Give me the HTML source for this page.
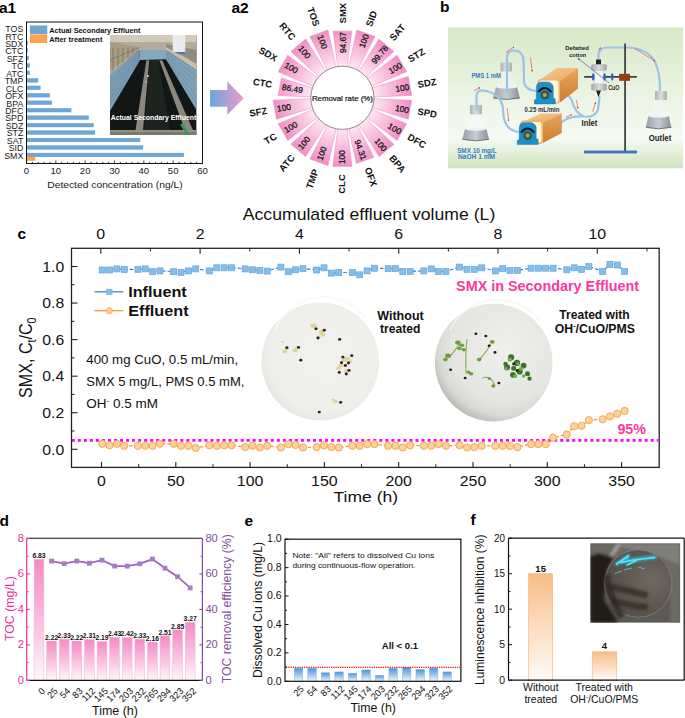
<!DOCTYPE html>
<html><head><meta charset="utf-8"><style>
html,body{margin:0;padding:0;background:#fff;}
svg{display:block;font-family:"Liberation Sans",sans-serif;}
</style></head><body>
<svg width="685" height="718" viewBox="0 0 685 718">
<defs><linearGradient id="poolwall" x1="0" y1="0" x2="0" y2="1"><stop offset="0" stop-color="#8fb4c8"/><stop offset="1" stop-color="#6f9ab3"/></linearGradient><linearGradient id="arrg" x1="0" y1="0" x2="1" y2="0"><stop offset="0" stop-color="#69a6d8"/><stop offset="1" stop-color="#f39acb"/></linearGradient><radialGradient id="segg" gradientUnits="userSpaceOnUse" cx="342.4" cy="97.8" r="70"><stop offset="0.44" stop-color="#fde9f3"/><stop offset="0.7" stop-color="#f8bddc"/><stop offset="1" stop-color="#f08cc3"/></radialGradient><linearGradient id="bbg" x1="0" y1="0" x2="0" y2="1"><stop offset="0" stop-color="#d6e9c7"/><stop offset="0.45" stop-color="#e9f3e1"/><stop offset="0.78" stop-color="#f6faf3"/><stop offset="0.9" stop-color="#e2efd7"/><stop offset="1" stop-color="#cde3bc"/></linearGradient>
<linearGradient id="flaskg" x1="0" y1="0" x2="1" y2="0"><stop offset="0" stop-color="#98a0a8"/><stop offset="0.5" stop-color="#c6ccd2"/><stop offset="1" stop-color="#8a929a"/></linearGradient>
<linearGradient id="cylg" x1="0" y1="0" x2="1" y2="0"><stop offset="0" stop-color="#a6a9ab"/><stop offset="0.5" stop-color="#dcdddd"/><stop offset="1" stop-color="#9ea1a3"/></linearGradient>
<linearGradient id="boxtop" x1="0" y1="0" x2="1" y2="1"><stop offset="0" stop-color="#f7cf95"/><stop offset="1" stop-color="#e8a458"/></linearGradient>
<linearGradient id="boxside" x1="0" y1="0" x2="0" y2="1"><stop offset="0" stop-color="#e9a45a"/><stop offset="1" stop-color="#c97f33"/></linearGradient>
<marker id="rarr" viewBox="0 0 6 6" refX="5" refY="3" markerWidth="3" markerHeight="3" orient="auto"><path d="M0,0 L6,3 L0,6 z" fill="#e02020"/></marker>
<marker id="barr" viewBox="0 0 6 6" refX="1" refY="3" markerWidth="4" markerHeight="4" orient="auto-start-reverse"><path d="M0,0 L6,3 L0,6 z" fill="#3d63b8"/></marker><radialGradient id="dish1" cx="0.55" cy="0.45" r="0.6"><stop offset="0" stop-color="#f1f1ef"/><stop offset="0.8" stop-color="#eeeeeb"/><stop offset="0.94" stop-color="#e8e7e3"/><stop offset="1" stop-color="#dcdbd7"/></radialGradient>
<radialGradient id="dish2" cx="0.6" cy="0.38" r="0.65"><stop offset="0" stop-color="#efefed"/><stop offset="0.7" stop-color="#e5e5e1"/><stop offset="0.88" stop-color="#d8d8d4"/><stop offset="1" stop-color="#bdbdb8"/></radialGradient><linearGradient id="pbar" x1="0" y1="0" x2="0" y2="1"><stop offset="0" stop-color="#f58ac3"/><stop offset="0.55" stop-color="#fac3e0"/><stop offset="1" stop-color="#fff8fc"/></linearGradient><linearGradient id="bbar" x1="0" y1="0" x2="0" y2="1"><stop offset="0" stop-color="#4a93da"/><stop offset="1" stop-color="#f2f8fd"/></linearGradient><linearGradient id="obar" x1="0" y1="0" x2="0" y2="1"><stop offset="0" stop-color="#f8bd86"/><stop offset="0.5" stop-color="#fcdcc0"/><stop offset="1" stop-color="#fffaf6"/></linearGradient><radialGradient id="fdish" cx="0.7" cy="0.45" r="0.75"><stop offset="0" stop-color="#6f6961"/><stop offset="0.6" stop-color="#5b554e"/><stop offset="0.95" stop-color="#524c46"/><stop offset="1" stop-color="#736e67"/></radialGradient>
<linearGradient id="fbg" x1="0" y1="0" x2="1" y2="1"><stop offset="0" stop-color="#5a5852"/><stop offset="0.5" stop-color="#8e8c86"/><stop offset="1" stop-color="#55524c"/></linearGradient><filter id="blur1" x="-20%" y="-20%" width="140%" height="140%"><feGaussianBlur stdDeviation="1.6"/></filter><filter id="blur2" x="-20%" y="-20%" width="140%" height="140%"><feGaussianBlur stdDeviation="0.7"/></filter><filter id="glow" x="-30%" y="-30%" width="160%" height="160%"><feGaussianBlur stdDeviation="1.2"/></filter></defs>
<rect width="685" height="718" fill="#fff"/>
<text x="-1.00" y="12.80" font-size="15.5" fill="#000" text-anchor="start" font-weight="bold" >a1</text>
<text x="231.50" y="13.00" font-size="15.5" fill="#000" text-anchor="start" font-weight="bold" >a2</text>
<text x="440.00" y="11.90" font-size="15.5" fill="#000" text-anchor="start" font-weight="bold" >b</text>
<text x="17.50" y="238.90" font-size="15.5" fill="#000" text-anchor="start" font-weight="bold" >c</text>
<text x="-0.50" y="525.70" font-size="15.5" fill="#000" text-anchor="start" font-weight="bold" >d</text>
<text x="244.50" y="525.70" font-size="15.5" fill="#000" text-anchor="start" font-weight="bold" >e</text>
<text x="470.50" y="525.10" font-size="15.5" fill="#000" text-anchor="start" font-weight="bold" >f</text>
<g><clipPath id="a1clip"><rect x="110" y="35" width="86.6" height="100"/></clipPath><g clip-path="url(#a1clip)">
<rect x="110.00" y="35.00" width="86.60" height="100.00" fill="#121614" stroke="none" stroke-width="1" />
<polygon points="110,35 196.6,35 196.6,63 166,50.2 139,50.2 110,76" fill="#b4ab98"/>
<polygon points="110,35 196.6,35 196.6,42 110,42" fill="#d2cab8"/>
<polygon points="110,42 139,47 139,50 110,70" fill="#a89c84"/>
<polygon points="166,44 196.6,50 196.6,63 166,47" fill="#8f8b80"/>
<line x1="113" y1="48" x2="113" y2="71.3" stroke="#6d6a60" stroke-width="0.7"/>
<line x1="118" y1="48" x2="118" y2="66.8" stroke="#6d6a60" stroke-width="0.7"/>
<line x1="123" y1="48" x2="123" y2="62.3" stroke="#6d6a60" stroke-width="0.7"/>
<line x1="128" y1="48" x2="128" y2="57.8" stroke="#6d6a60" stroke-width="0.7"/>
<line x1="133" y1="48" x2="133" y2="53.3" stroke="#6d6a60" stroke-width="0.7"/>
<line x1="110" y1="60" x2="139" y2="47.5" stroke="#7a7567" stroke-width="0.8"/>
<rect x="172.70" y="35.00" width="12.60" height="18.00" fill="#e9ebec" stroke="none" stroke-width="1" />
<rect x="172.70" y="52.00" width="12.60" height="2.00" fill="#4a78b8" stroke="none" stroke-width="1" />
<polygon points="166,47.6 196.6,63.5 196.6,70.2 166,50.1" fill="#c9bfa8"/>
<polygon points="166,50.1 196.6,70.2 196.6,110.3 166,59.3" fill="#7fa2b8"/>
<polygon points="110,75.2 139.3,50.1 140.1,60.1 110,111.1" fill="#7a9db4"/>
<polygon points="139.3,50.1 166,50.1 166,59.3 140.1,60.1" fill="#86a8bc"/>
<line x1="166" y1="51.6" x2="196.6" y2="76.9" stroke="#5f8097" stroke-width="0.4"/>
<line x1="110" y1="81.2" x2="139.5" y2="51.8" stroke="#5f8097" stroke-width="0.4"/>
<line x1="166" y1="53.2" x2="196.6" y2="83.6" stroke="#5f8097" stroke-width="0.4"/>
<line x1="110" y1="87.2" x2="139.5" y2="53.4" stroke="#5f8097" stroke-width="0.4"/>
<line x1="166" y1="54.7" x2="196.6" y2="90.2" stroke="#5f8097" stroke-width="0.4"/>
<line x1="110" y1="93.2" x2="139.5" y2="55.1" stroke="#5f8097" stroke-width="0.4"/>
<line x1="166" y1="56.2" x2="196.6" y2="96.9" stroke="#5f8097" stroke-width="0.4"/>
<line x1="110" y1="99.1" x2="139.5" y2="56.8" stroke="#5f8097" stroke-width="0.4"/>
<line x1="166" y1="57.8" x2="196.6" y2="103.6" stroke="#5f8097" stroke-width="0.4"/>
<line x1="110" y1="105.1" x2="139.5" y2="58.4" stroke="#5f8097" stroke-width="0.4"/>
<polygon points="146.4,60.2 149.2,60.2 143,130.3 135.5,130.3" fill="#8a877e"/>
<polygon points="159.3,60.2 162.2,60.2 193,130.3 185,130.3" fill="#8a877e"/>
<polygon points="150,60.2 158.5,60.2 170,130.3 144,130.3" fill="#1d2420"/>
<circle cx="148" cy="76" r="0.9" fill="#e8e8e8"/><circle cx="146.5" cy="82" r="0.7" fill="#cfcfcf"/>
<rect x="110.00" y="130.30" width="86.60" height="5.00" fill="#7c7a70" stroke="none" stroke-width="1" />
<rect x="110.00" y="130.30" width="86.60" height="1.20" fill="#a9a79c" stroke="none" stroke-width="1" />
<polygon points="180,124.5 182.5,123.5 190,135 186.5,135" fill="#2e9a55"/>
</g></g>
<text x="153.50" y="119.80" font-size="7.2" fill="#fff" text-anchor="middle" font-weight="bold" textLength="85.50" lengthAdjust="spacingAndGlyphs" >Actual Secondary Effluent</text>
<text x="23.30" y="32.05" font-size="8.8" fill="#1a1a1a" text-anchor="end" >TOS</text>
<text x="23.30" y="39.50" font-size="8.8" fill="#1a1a1a" text-anchor="end" >RTC</text>
<rect x="26.50" y="41.20" width="1.17" height="3.70" fill="#6fa6d6" stroke="#5b97cc" stroke-width="0.4" />
<text x="23.30" y="46.95" font-size="8.8" fill="#1a1a1a" text-anchor="end" >SDX</text>
<rect x="26.50" y="48.66" width="1.17" height="3.70" fill="#6fa6d6" stroke="#5b97cc" stroke-width="0.4" />
<text x="23.30" y="54.40" font-size="8.8" fill="#1a1a1a" text-anchor="end" >CTC</text>
<rect x="26.50" y="56.12" width="2.05" height="3.70" fill="#6fa6d6" stroke="#5b97cc" stroke-width="0.4" />
<text x="23.30" y="61.85" font-size="8.8" fill="#1a1a1a" text-anchor="end" >SFZ</text>
<rect x="26.50" y="63.58" width="3.23" height="3.70" fill="#6fa6d6" stroke="#5b97cc" stroke-width="0.4" />
<text x="23.30" y="69.30" font-size="8.8" fill="#1a1a1a" text-anchor="end" >TC</text>
<rect x="26.50" y="71.04" width="3.23" height="3.70" fill="#6fa6d6" stroke="#5b97cc" stroke-width="0.4" />
<text x="23.30" y="76.75" font-size="8.8" fill="#1a1a1a" text-anchor="end" >ATC</text>
<rect x="26.50" y="78.50" width="11.44" height="3.70" fill="#6fa6d6" stroke="#5b97cc" stroke-width="0.4" />
<text x="23.30" y="84.20" font-size="8.8" fill="#1a1a1a" text-anchor="end" >TMP</text>
<rect x="26.50" y="85.96" width="13.79" height="3.70" fill="#6fa6d6" stroke="#5b97cc" stroke-width="0.4" />
<text x="23.30" y="91.65" font-size="8.8" fill="#1a1a1a" text-anchor="end" >CLC</text>
<rect x="26.50" y="93.42" width="23.17" height="3.70" fill="#6fa6d6" stroke="#5b97cc" stroke-width="0.4" />
<rect x="26.50" y="97.12" width="0.88" height="3.70" fill="#fba452" stroke="#f8952e" stroke-width="0.4" />
<text x="23.30" y="99.10" font-size="8.8" fill="#1a1a1a" text-anchor="end" >OFX</text>
<rect x="26.50" y="100.88" width="25.23" height="3.70" fill="#6fa6d6" stroke="#5b97cc" stroke-width="0.4" />
<text x="23.30" y="106.55" font-size="8.8" fill="#1a1a1a" text-anchor="end" >BPA</text>
<rect x="26.50" y="108.34" width="44.59" height="3.70" fill="#6fa6d6" stroke="#5b97cc" stroke-width="0.4" />
<text x="23.30" y="114.00" font-size="8.8" fill="#1a1a1a" text-anchor="end" >DFC</text>
<rect x="26.50" y="115.80" width="62.19" height="3.70" fill="#6fa6d6" stroke="#5b97cc" stroke-width="0.4" />
<text x="23.30" y="121.45" font-size="8.8" fill="#1a1a1a" text-anchor="end" >SPD</text>
<rect x="26.50" y="123.26" width="66.88" height="3.70" fill="#6fa6d6" stroke="#5b97cc" stroke-width="0.4" />
<text x="23.30" y="128.90" font-size="8.8" fill="#1a1a1a" text-anchor="end" >SDZ</text>
<rect x="26.50" y="130.72" width="68.35" height="3.70" fill="#6fa6d6" stroke="#5b97cc" stroke-width="0.4" />
<text x="23.30" y="136.35" font-size="8.8" fill="#1a1a1a" text-anchor="end" >STZ</text>
<rect x="26.50" y="138.18" width="113.52" height="3.70" fill="#6fa6d6" stroke="#5b97cc" stroke-width="0.4" />
<text x="23.30" y="143.80" font-size="8.8" fill="#1a1a1a" text-anchor="end" >SAT</text>
<rect x="26.50" y="145.64" width="116.45" height="3.70" fill="#6fa6d6" stroke="#5b97cc" stroke-width="0.4" />
<text x="23.30" y="151.25" font-size="8.8" fill="#1a1a1a" text-anchor="end" >SID</text>
<rect x="26.50" y="153.10" width="157.23" height="3.70" fill="#6fa6d6" stroke="#5b97cc" stroke-width="0.4" />
<rect x="26.50" y="156.80" width="8.51" height="3.70" fill="#fba452" stroke="#f8952e" stroke-width="0.4" />
<text x="23.30" y="158.70" font-size="8.8" fill="#1a1a1a" text-anchor="end" >SMX</text>
<rect x="30.20" y="25.90" width="16.70" height="7.90" fill="#6fa6d6" stroke="#5b97cc" stroke-width="0.6" />
<rect x="30.20" y="34.90" width="16.70" height="7.90" fill="#fba452" stroke="#f8952e" stroke-width="0.6" />
<text x="49.20" y="32.60" font-size="7.3" fill="#111" text-anchor="start" font-weight="bold" textLength="91.30" lengthAdjust="spacingAndGlyphs" >Actual Secondary Effluent</text>
<text x="49.20" y="41.70" font-size="7.3" fill="#111" text-anchor="start" font-weight="bold" textLength="53.20" lengthAdjust="spacingAndGlyphs" >After treatment</text>
<rect x="26.50" y="22.00" width="176.00" height="141.50" fill="none" stroke="#111" stroke-width="1" />
<line x1="26.50" y1="163.50" x2="26.50" y2="160.50" stroke="#111" stroke-width="0.8" />
<text x="26.50" y="174.40" font-size="9.6" fill="#222" text-anchor="middle" >0</text>
<line x1="32.37" y1="163.50" x2="32.37" y2="161.90" stroke="#111" stroke-width="0.8" />
<line x1="38.23" y1="163.50" x2="38.23" y2="161.90" stroke="#111" stroke-width="0.8" />
<line x1="44.10" y1="163.50" x2="44.10" y2="161.90" stroke="#111" stroke-width="0.8" />
<line x1="49.97" y1="163.50" x2="49.97" y2="161.90" stroke="#111" stroke-width="0.8" />
<line x1="55.83" y1="163.50" x2="55.83" y2="160.50" stroke="#111" stroke-width="0.8" />
<text x="55.83" y="174.40" font-size="9.6" fill="#222" text-anchor="middle" >10</text>
<line x1="61.70" y1="163.50" x2="61.70" y2="161.90" stroke="#111" stroke-width="0.8" />
<line x1="67.57" y1="163.50" x2="67.57" y2="161.90" stroke="#111" stroke-width="0.8" />
<line x1="73.43" y1="163.50" x2="73.43" y2="161.90" stroke="#111" stroke-width="0.8" />
<line x1="79.30" y1="163.50" x2="79.30" y2="161.90" stroke="#111" stroke-width="0.8" />
<line x1="85.17" y1="163.50" x2="85.17" y2="160.50" stroke="#111" stroke-width="0.8" />
<text x="85.17" y="174.40" font-size="9.6" fill="#222" text-anchor="middle" >20</text>
<line x1="91.03" y1="163.50" x2="91.03" y2="161.90" stroke="#111" stroke-width="0.8" />
<line x1="96.90" y1="163.50" x2="96.90" y2="161.90" stroke="#111" stroke-width="0.8" />
<line x1="102.77" y1="163.50" x2="102.77" y2="161.90" stroke="#111" stroke-width="0.8" />
<line x1="108.63" y1="163.50" x2="108.63" y2="161.90" stroke="#111" stroke-width="0.8" />
<line x1="114.50" y1="163.50" x2="114.50" y2="160.50" stroke="#111" stroke-width="0.8" />
<text x="114.50" y="174.40" font-size="9.6" fill="#222" text-anchor="middle" >30</text>
<line x1="120.37" y1="163.50" x2="120.37" y2="161.90" stroke="#111" stroke-width="0.8" />
<line x1="126.23" y1="163.50" x2="126.23" y2="161.90" stroke="#111" stroke-width="0.8" />
<line x1="132.10" y1="163.50" x2="132.10" y2="161.90" stroke="#111" stroke-width="0.8" />
<line x1="137.97" y1="163.50" x2="137.97" y2="161.90" stroke="#111" stroke-width="0.8" />
<line x1="143.83" y1="163.50" x2="143.83" y2="160.50" stroke="#111" stroke-width="0.8" />
<text x="143.83" y="174.40" font-size="9.6" fill="#222" text-anchor="middle" >40</text>
<line x1="149.70" y1="163.50" x2="149.70" y2="161.90" stroke="#111" stroke-width="0.8" />
<line x1="155.57" y1="163.50" x2="155.57" y2="161.90" stroke="#111" stroke-width="0.8" />
<line x1="161.43" y1="163.50" x2="161.43" y2="161.90" stroke="#111" stroke-width="0.8" />
<line x1="167.30" y1="163.50" x2="167.30" y2="161.90" stroke="#111" stroke-width="0.8" />
<line x1="173.17" y1="163.50" x2="173.17" y2="160.50" stroke="#111" stroke-width="0.8" />
<text x="173.17" y="174.40" font-size="9.6" fill="#222" text-anchor="middle" >50</text>
<line x1="179.03" y1="163.50" x2="179.03" y2="161.90" stroke="#111" stroke-width="0.8" />
<line x1="184.90" y1="163.50" x2="184.90" y2="161.90" stroke="#111" stroke-width="0.8" />
<line x1="190.77" y1="163.50" x2="190.77" y2="161.90" stroke="#111" stroke-width="0.8" />
<line x1="196.63" y1="163.50" x2="196.63" y2="161.90" stroke="#111" stroke-width="0.8" />
<line x1="202.50" y1="163.50" x2="202.50" y2="160.50" stroke="#111" stroke-width="0.8" />
<text x="202.50" y="174.40" font-size="9.6" fill="#222" text-anchor="middle" >60</text>
<text x="115.00" y="188.20" font-size="9.8" fill="#222" text-anchor="middle" textLength="135.50" lengthAdjust="spacingAndGlyphs" >Detected concentration (ng/L)</text>
<polygon points="210.1,90 227.3,90 227.3,81.6 243.8,98.2 227.3,114.8 227.3,106.8 210.1,106.8" fill="url(#arrg)"/>
<polygon points="337.78,66.54 333.03,31.13 351.77,31.13 347.02,66.54" fill="url(#segg)" stroke="#ef86bf" stroke-width="0.5"/>
<polygon points="348.75,66.85 356.81,30.01 374.93,36.61 357.43,70.00" fill="url(#segg)" stroke="#ef86bf" stroke-width="0.5"/>
<polygon points="358.96,70.89 379.08,39.10 393.84,51.48 366.03,76.82" fill="url(#segg)" stroke="#ef86bf" stroke-width="0.5"/>
<polygon points="367.16,78.17 397.01,55.13 406.65,71.84 371.78,86.17" fill="url(#segg)" stroke="#ef86bf" stroke-width="0.5"/>
<polygon points="372.38,87.83 408.31,76.39 411.66,95.38 373.99,96.92" fill="url(#segg)" stroke="#ef86bf" stroke-width="0.5"/>
<polygon points="373.99,98.68 411.66,100.22 408.31,119.21 372.38,107.77" fill="url(#segg)" stroke="#ef86bf" stroke-width="0.5"/>
<polygon points="371.78,109.43 406.65,123.76 397.01,140.47 367.16,117.43" fill="url(#segg)" stroke="#ef86bf" stroke-width="0.5"/>
<polygon points="366.03,118.78 393.90,144.17 379.12,156.57 358.96,124.71" fill="url(#segg)" stroke="#ef86bf" stroke-width="0.5"/>
<polygon points="357.43,125.60 373.95,157.13 356.37,163.53 348.75,128.75" fill="url(#segg)" stroke="#ef86bf" stroke-width="0.5"/>
<polygon points="347.02,129.06 352.04,166.43 332.76,166.43 337.78,129.06" fill="url(#segg)" stroke="#ef86bf" stroke-width="0.5"/>
<polygon points="336.05,128.75 327.99,165.59 309.87,158.99 327.37,125.60" fill="url(#segg)" stroke="#ef86bf" stroke-width="0.5"/>
<polygon points="325.84,124.71 305.68,156.57 290.90,144.17 318.77,118.78" fill="url(#segg)" stroke="#ef86bf" stroke-width="0.5"/>
<polygon points="317.64,117.43 287.79,140.47 278.15,123.76 313.02,109.43" fill="url(#segg)" stroke="#ef86bf" stroke-width="0.5"/>
<polygon points="312.42,107.77 276.49,119.21 273.14,100.22 310.81,98.68" fill="url(#segg)" stroke="#ef86bf" stroke-width="0.5"/>
<polygon points="310.81,96.92 278.14,95.56 281.25,77.93 312.42,87.83" fill="url(#segg)" stroke="#ef86bf" stroke-width="0.5"/>
<polygon points="313.02,86.17 278.15,71.84 287.79,55.13 317.64,78.17" fill="url(#segg)" stroke="#ef86bf" stroke-width="0.5"/>
<polygon points="318.77,76.82 290.90,51.43 305.68,39.03 325.84,70.89" fill="url(#segg)" stroke="#ef86bf" stroke-width="0.5"/>
<polygon points="327.37,70.00 309.87,36.61 327.99,30.01 336.05,66.85" fill="url(#segg)" stroke="#ef86bf" stroke-width="0.5"/>
<circle cx="342.4" cy="97.8" r="31.6" fill="#fff" stroke="#777" stroke-width="0.8"/>
<text x="342.40" y="100.50" font-size="7.6" fill="#111" text-anchor="middle" textLength="61.00" lengthAdjust="spacingAndGlyphs" stroke="#111" stroke-width="0.2">Removal rate (%)</text>
<text x="346.10" y="32.07" font-size="8.4" fill="#111" text-anchor="end" transform="rotate(-90.00 346.10 32.07)" stroke="#111" stroke-width="0.25">94.67</text>
<text x="345.90" y="23.37" font-size="9.5" fill="#111" text-anchor="start" font-weight="bold" transform="rotate(-90.00 345.90 23.37)" >SMX</text>
<text x="369.03" y="35.45" font-size="8.4" fill="#111" text-anchor="end" transform="rotate(-70.00 369.03 35.45)" stroke="#111" stroke-width="0.25">100</text>
<text x="371.82" y="27.20" font-size="9.5" fill="#111" text-anchor="start" font-weight="bold" transform="rotate(-70.00 371.82 27.20)" >SID</text>
<text x="388.70" y="48.38" font-size="8.4" fill="#111" text-anchor="end" transform="rotate(-50.00 388.70 48.38)" stroke="#111" stroke-width="0.25">99.78</text>
<text x="394.14" y="41.59" font-size="9.5" fill="#111" text-anchor="start" font-weight="bold" transform="rotate(-50.00 394.14 41.59)" >SAT</text>
<text x="402.88" y="67.15" font-size="8.4" fill="#111" text-anchor="end" transform="rotate(-30.00 402.88 67.15)" stroke="#111" stroke-width="0.25">100</text>
<text x="410.31" y="62.63" font-size="9.5" fill="#111" text-anchor="start" font-weight="bold" transform="rotate(-30.00 410.31 62.63)" >STZ</text>
<text x="409.71" y="89.69" font-size="8.4" fill="#111" text-anchor="end" transform="rotate(-10.00 409.71 89.69)" stroke="#111" stroke-width="0.25">100</text>
<text x="418.25" y="87.98" font-size="9.5" fill="#111" text-anchor="start" font-weight="bold" transform="rotate(-10.00 418.25 87.98)" >SDZ</text>
<text x="408.43" y="113.20" font-size="8.4" fill="#111" text-anchor="end" transform="rotate(10.00 408.43 113.20)" stroke="#111" stroke-width="0.25">100</text>
<text x="417.03" y="114.51" font-size="9.5" fill="#111" text-anchor="start" font-weight="bold" transform="rotate(10.00 417.03 114.51)" >SPD</text>
<text x="399.18" y="134.85" font-size="8.4" fill="#111" text-anchor="end" transform="rotate(30.00 399.18 134.85)" stroke="#111" stroke-width="0.25">100</text>
<text x="406.81" y="139.03" font-size="9.5" fill="#111" text-anchor="start" font-weight="bold" transform="rotate(30.00 406.81 139.03)" >DFC</text>
<text x="383.08" y="152.04" font-size="8.4" fill="#111" text-anchor="end" transform="rotate(50.00 383.08 152.04)" stroke="#111" stroke-width="0.25">100</text>
<text x="388.83" y="158.58" font-size="9.5" fill="#111" text-anchor="start" font-weight="bold" transform="rotate(50.00 388.83 158.58)" >BPA</text>
<text x="361.36" y="160.70" font-size="8.4" fill="#111" text-anchor="end" transform="rotate(70.00 361.36 160.70)" stroke="#111" stroke-width="0.25">94.31</text>
<text x="364.52" y="168.81" font-size="9.5" fill="#111" text-anchor="start" font-weight="bold" transform="rotate(70.00 364.52 168.81)" >OFX</text>
<text x="345.00" y="164.10" font-size="8.4" fill="#111" text-anchor="start" transform="rotate(-90.00 345.00 164.10)" stroke="#111" stroke-width="0.25">100</text>
<text x="345.10" y="174.20" font-size="9.5" fill="#111" text-anchor="end" font-weight="bold" transform="rotate(-90.00 345.10 174.20)" >CLC</text>
<text x="322.17" y="160.99" font-size="8.4" fill="#111" text-anchor="start" transform="rotate(-70.00 322.17 160.99)" stroke="#111" stroke-width="0.25">100</text>
<text x="318.81" y="170.52" font-size="9.5" fill="#111" text-anchor="end" font-weight="bold" transform="rotate(-70.00 318.81 170.52)" >TMP</text>
<text x="301.77" y="150.26" font-size="8.4" fill="#111" text-anchor="start" transform="rotate(-50.00 301.77 150.26)" stroke="#111" stroke-width="0.25">100</text>
<text x="295.36" y="158.06" font-size="9.5" fill="#111" text-anchor="end" font-weight="bold" transform="rotate(-50.00 295.36 158.06)" >ATC</text>
<text x="286.28" y="133.20" font-size="8.4" fill="#111" text-anchor="start" transform="rotate(-30.00 286.28 133.20)" stroke="#111" stroke-width="0.25">100</text>
<text x="277.59" y="138.34" font-size="9.5" fill="#111" text-anchor="end" font-weight="bold" transform="rotate(-30.00 277.59 138.34)" >TC</text>
<text x="277.56" y="111.87" font-size="8.4" fill="#111" text-anchor="start" transform="rotate(-10.00 277.56 111.87)" stroke="#111" stroke-width="0.25">100</text>
<text x="267.63" y="113.73" font-size="9.5" fill="#111" text-anchor="end" font-weight="bold" transform="rotate(-10.00 267.63 113.73)" >SFZ</text>
<text x="281.58" y="89.72" font-size="8.4" fill="#111" text-anchor="start" transform="rotate(10.00 281.58 89.72)" stroke="#111" stroke-width="0.25">86.49</text>
<text x="271.61" y="88.06" font-size="9.5" fill="#111" text-anchor="end" font-weight="bold" transform="rotate(10.00 271.61 88.06)" >CTC</text>
<text x="283.68" y="66.90" font-size="8.4" fill="#111" text-anchor="start" transform="rotate(30.00 283.68 66.90)" stroke="#111" stroke-width="0.25">100</text>
<text x="274.89" y="61.94" font-size="9.5" fill="#111" text-anchor="end" font-weight="bold" transform="rotate(30.00 274.89 61.94)" >SDX</text>
<text x="297.79" y="48.68" font-size="8.4" fill="#111" text-anchor="start" transform="rotate(50.00 297.79 48.68)" stroke="#111" stroke-width="0.25">100</text>
<text x="291.22" y="41.01" font-size="9.5" fill="#111" text-anchor="end" font-weight="bold" transform="rotate(50.00 291.22 41.01)" >RTC</text>
<text x="317.28" y="36.39" font-size="8.4" fill="#111" text-anchor="start" transform="rotate(70.00 317.28 36.39)" stroke="#111" stroke-width="0.25">100</text>
<text x="313.73" y="26.93" font-size="9.5" fill="#111" text-anchor="end" font-weight="bold" transform="rotate(70.00 313.73 26.93)" >TOS</text>
<rect x="448.00" y="27.30" width="235.00" height="141.00" fill="url(#bbg)" stroke="none" stroke-width="1" />
<polygon points="471.7,115.2 479.7,115.2 486.4,129.1 465.0,129.1" fill="#f4fafd" opacity="0.4"/>
<path d="M465.0,129.1 L486.4,129.1 L489.1,139.3 Q475.7,142.3 462.3,139.3 Z" fill="url(#flaskg)"/>
<path d="M489.1,139.3 Q475.7,142.3 462.3,139.3" fill="none" stroke="#5d6166" stroke-width="0.8"/>
<ellipse cx="475.7" cy="129.1" rx="10.7" ry="1.6" fill="#eaf5fb"/>
<rect x="470.0" y="105.1" width="11.8" height="9.1" rx="1" fill="url(#cylg)" opacity="0.9"/>
<polygon points="502.5,72.4 510.5,72.4 517.1,87.0 495.9,87.0" fill="#f4fafd" opacity="0.4"/>
<path d="M495.9,87.0 L517.1,87.0 L519.8,98.0 Q506.5,101.0 493.3,98.0 Z" fill="url(#flaskg)"/>
<path d="M519.8,98.0 Q506.5,101.0 493.3,98.0" fill="none" stroke="#5d6166" stroke-width="0.8"/>
<ellipse cx="506.5" cy="87.0" rx="10.6" ry="1.6" fill="#eaf5fb"/>
<rect x="500.6" y="62.6" width="11.3" height="8.8" rx="1" fill="url(#cylg)" opacity="0.9"/>
<polygon points="654.6,101.0 662.6,101.0 668.8,116.0 648.4,116.0" fill="#f4fafd" opacity="0.4"/>
<path d="M648.4,116.0 L668.8,116.0 L671.4,127.3 Q658.6,130.3 645.8,127.3 Z" fill="url(#flaskg)"/>
<path d="M671.4,127.3 Q658.6,130.3 645.8,127.3" fill="none" stroke="#5d6166" stroke-width="0.8"/>
<ellipse cx="658.6" cy="116.0" rx="10.2" ry="1.6" fill="#eaf5fb"/>
<rect x="655.0" y="91.0" width="12.0" height="9.0" rx="1" fill="url(#cylg)" opacity="0.9"/>
<path d="M476.5,110 L476.5,96 Q477,90 483,90.5 Q492,91.5 498,97 Q503,103 503,110 Q503.5,126 512,130 Q516,132 520,132" fill="none" stroke="#9cc3e6" stroke-width="2.2" stroke-linecap="round"/>
<path d="M507,93 L507,56 Q508,50.5 514,50.5 Q523,51 523.5,60 L524,82 Q525,90 536,91" fill="none" stroke="#9cc3e6" stroke-width="2.2" stroke-linecap="round"/>
<path d="M554,92 Q568,91 572,101 Q575,113 584,116.5 Q594,118 598,110 L599.5,97" fill="none" stroke="#9cc3e6" stroke-width="2.2" stroke-linecap="round"/>
<path d="M537,134 Q552,134 560,124 Q567,116 582,116.5" fill="none" stroke="#9cc3e6" stroke-width="2.2" stroke-linecap="round"/>
<path d="M598.5,60 L598.5,54 Q599.5,47.5 608,47.5 L628,47.5 Q648,49 655,62 Q660,72 660,90" fill="none" stroke="#9cc3e6" stroke-width="2.2" stroke-linecap="round"/>
<line x1="505.7" y1="52.5" x2="514" y2="47" stroke="#e83a3a" stroke-width="0.6" fill="none" marker-end="url(#rarr)"/>
<line x1="530.5" y1="57.7" x2="532.2" y2="71.5" stroke="#e83a3a" stroke-width="0.6" fill="none" marker-end="url(#rarr)"/>
<line x1="474" y1="91" x2="480" y2="87.5" stroke="#e83a3a" stroke-width="0.6" fill="none" marker-end="url(#rarr)"/>
<line x1="507.2" y1="108" x2="508.6" y2="121" stroke="#e83a3a" stroke-width="0.6" fill="none" marker-end="url(#rarr)"/>
<line x1="576.3" y1="99.8" x2="578" y2="108.5" stroke="#e83a3a" stroke-width="0.6" fill="none" marker-end="url(#rarr)"/>
<line x1="565.9" y1="117.3" x2="571.8" y2="114.6" stroke="#e83a3a" stroke-width="0.6" fill="none" marker-end="url(#rarr)"/>
<line x1="592.7" y1="111.7" x2="595.6" y2="102.4" stroke="#e83a3a" stroke-width="0.6" fill="none" marker-end="url(#rarr)"/>
<line x1="598.3" y1="50.5" x2="600.6" y2="47.6" stroke="#e83a3a" stroke-width="0.6" fill="none" marker-end="url(#rarr)"/>
<line x1="634.8" y1="48.4" x2="655.2" y2="61.4" stroke="#e83a3a" stroke-width="0.6" fill="none" marker-end="url(#rarr)"/>
<line x1="625.10" y1="43.50" x2="625.10" y2="151.00" stroke="#3e4347" stroke-width="1.8" />
<rect x="584.00" y="150.60" width="53.00" height="2.80" fill="#4472c4" stroke="none" stroke-width="1" />
<line x1="584.20" y1="76.90" x2="636.80" y2="76.90" stroke="#3a3f45" stroke-width="1.6" />
<path d="M596,59.5 L601,59.5 L601,64.6 L596,64.6 Z" fill="#222"/>
<path d="M596,90.2 L601,90.2 L598.5,97.3 Z" fill="#222"/>
<rect x="594.40" y="70.30" width="8.70" height="13.70" fill="#f4f6f7" stroke="#b8bcc0" stroke-width="0.4" />
<rect x="591.40" y="64.60" width="15.30" height="5.70" fill="url(#cylg)" stroke="#999" stroke-width="0.3" rx="1.2"/>
<rect x="591.40" y="84.00" width="15.30" height="6.20" fill="url(#cylg)" stroke="#999" stroke-width="0.3" rx="1.2"/>
<ellipse cx="593.2" cy="76.9" rx="1.3" ry="3.6" fill="#3a63b8"/>
<ellipse cx="604.6" cy="76.9" rx="1.3" ry="3.6" fill="#3a63b8"/>
<ellipse cx="612.3" cy="76.9" rx="1.3" ry="3.6" fill="#3a63b8"/>
<rect x="619.10" y="73.80" width="10.90" height="7.00" fill="#953e0f" stroke="none" stroke-width="1" />
<line x1="579.5" y1="59.5" x2="609.2" y2="83" stroke="#3d63b8" stroke-width="0.7" marker-start="url(#barr)"/>
<polygon points="538.6,81.0 556.6,68.0 578.0,68.0 560.0,81.0" fill="url(#boxtop)"/>
<polygon points="560.0,81.0 578.0,68.0 578.0,88.4 560.0,102.4" fill="url(#boxside)"/>
<rect x="537.6" y="79.0" width="22.4" height="24.4" rx="3" fill="#f1b46c"/>
<rect x="539.1" y="80.5" width="19.4" height="21.4" rx="2" fill="#fff7d8"/>
<path d="M534.3,104.0 L555.3,104.0 L555.3,99.0 L553.3,98.0 L553.3,87.0 Q552.3,82.0 546.3,82.0 L541.3,82.0 Q536.3,82.0 536.3,88.0 L536.3,99.0 L534.3,100.0 Z" fill="#1f8fc9" stroke="#136a9a" stroke-width="0.4"/>
<path d="M538.3,92.0 Q544.3,84.0 551.3,92.0" fill="none" stroke="#111" stroke-width="2"/>
<circle cx="544.8" cy="95.0" r="4" fill="#4a5a2a" stroke="#0d4f74" stroke-width="0.8"/>
<circle cx="544.8" cy="95.0" r="2" fill="#b7a24a"/>
<polygon points="521.5,122.4 540.5,113.4 561.8,113.4 542.8,122.4" fill="url(#boxtop)"/>
<polygon points="542.8,122.4 561.8,113.4 561.8,133.1 542.8,143.1" fill="url(#boxside)"/>
<rect x="520.5" y="120.4" width="22.3" height="23.7" rx="3" fill="#f1b46c"/>
<rect x="522.0" y="121.9" width="19.3" height="20.7" rx="2" fill="#fff7d8"/>
<path d="M517.2,144.5 L538.2,144.5 L538.2,139.5 L536.2,138.5 L536.2,127.5 Q535.2,122.5 529.2,122.5 L524.2,122.5 Q519.2,122.5 519.2,128.5 L519.2,139.5 L517.2,140.5 Z" fill="#1f8fc9" stroke="#136a9a" stroke-width="0.4"/>
<path d="M521.2,132.5 Q527.2,124.5 534.2,132.5" fill="none" stroke="#111" stroke-width="2"/>
<circle cx="527.7" cy="135.5" r="4" fill="#4a5a2a" stroke="#0d4f74" stroke-width="0.8"/>
<circle cx="527.7" cy="135.5" r="2" fill="#b7a24a"/>
<text x="476.90" y="152.60" font-size="6.9" fill="#3a7bc0" text-anchor="middle" font-weight="bold" textLength="39.50" lengthAdjust="spacingAndGlyphs" >SMX 10 mg/L</text>
<text x="476.50" y="158.60" font-size="6.9" fill="#3a7bc0" text-anchor="middle" font-weight="bold" textLength="37.00" lengthAdjust="spacingAndGlyphs" >NaOH 1 mM</text>
<text x="471.40" y="78.40" font-size="7" fill="#3a7bc0" text-anchor="start" font-weight="bold" textLength="29.60" lengthAdjust="spacingAndGlyphs" >PMS 1 mM</text>
<text x="524.60" y="111.70" font-size="7" fill="#333" text-anchor="start" font-weight="bold" textLength="34.80" lengthAdjust="spacingAndGlyphs" >0.25 mL/min</text>
<text x="581.60" y="126.40" font-size="8.6" fill="#222" text-anchor="start" font-weight="bold" textLength="15.80" lengthAdjust="spacingAndGlyphs" >Inlet</text>
<text x="648.70" y="141.40" font-size="8.6" fill="#222" text-anchor="start" font-weight="bold" textLength="22.60" lengthAdjust="spacingAndGlyphs" >Outlet</text>
<text x="608.20" y="90.20" font-size="6.3" fill="#222" text-anchor="start" font-weight="bold" textLength="11.30" lengthAdjust="spacingAndGlyphs" >CuO</text>
<text x="588.80" y="49.80" font-size="5.8" fill="#222" text-anchor="end" font-weight="bold" textLength="23.50" lengthAdjust="spacingAndGlyphs" >Defatted</text>
<text x="586.20" y="57.00" font-size="5.8" fill="#222" text-anchor="end" font-weight="bold" textLength="17.00" lengthAdjust="spacingAndGlyphs" >cotton</text>
<circle cx="320.3" cy="361.5" r="58.9" fill="url(#dish1)"/>
<path d="M275,330 A52,52 0 0 1 365,318" fill="none" stroke="#fafaf9" stroke-width="2" opacity="0.9"/>
<circle cx="493.7" cy="362.6" r="58.8" fill="url(#dish2)"/>
<path d="M450,330 A52,52 0 0 1 540,322" fill="none" stroke="#f6f6f4" stroke-width="1.8" opacity="0.8"/>
<ellipse cx="313.2" cy="325.5" rx="2.8" ry="2.1" fill="#d6d58e" opacity="0.9"/>
<ellipse cx="315.5" cy="327.2" rx="2.0" ry="1.5" fill="#d6d58e" opacity="0.9"/>
<ellipse cx="321.6" cy="332.2" rx="2.8" ry="2.1" fill="#d6d58e" opacity="0.9"/>
<ellipse cx="323.2" cy="334.9" rx="2.2" ry="1.7" fill="#d6d58e" opacity="0.9"/>
<ellipse cx="318.8" cy="336.6" rx="1.8" ry="1.4" fill="#d6d58e" opacity="0.9"/>
<ellipse cx="284.7" cy="351.6" rx="2.6" ry="2.0" fill="#d6d58e" opacity="0.9"/>
<ellipse cx="286.6" cy="349.1" rx="2.0" ry="1.5" fill="#d6d58e" opacity="0.9"/>
<ellipse cx="282.7" cy="342.1" rx="1.4" ry="1.0" fill="#d6d58e" opacity="0.9"/>
<ellipse cx="295.2" cy="350.5" rx="2.6" ry="2.0" fill="#d6d58e" opacity="0.9"/>
<ellipse cx="296.6" cy="348.3" rx="1.8" ry="1.4" fill="#d6d58e" opacity="0.9"/>
<ellipse cx="344.3" cy="359.9" rx="3.0" ry="2.2" fill="#d6d58e" opacity="0.9"/>
<ellipse cx="347.6" cy="358.8" rx="2.6" ry="2.0" fill="#d6d58e" opacity="0.9"/>
<ellipse cx="341.0" cy="365.5" rx="2.6" ry="2.0" fill="#d6d58e" opacity="0.9"/>
<ellipse cx="338.2" cy="368.2" rx="2.2" ry="1.7" fill="#d6d58e" opacity="0.9"/>
<ellipse cx="346.5" cy="371.0" rx="2.6" ry="2.0" fill="#d6d58e" opacity="0.9"/>
<ellipse cx="350.4" cy="361.6" rx="2.0" ry="1.5" fill="#d6d58e" opacity="0.9"/>
<ellipse cx="335.4" cy="401.5" rx="2.4" ry="1.8" fill="#d6d58e" opacity="0.9"/>
<ellipse cx="333.2" cy="399.6" rx="1.6" ry="1.2" fill="#d6d58e" opacity="0.9"/>
<ellipse cx="316.0" cy="328.8" rx="1.6" ry="1.4" fill="#3e1c1c"/>
<ellipse cx="324.3" cy="330.2" rx="1.6" ry="1.4" fill="#3e1c1c"/>
<ellipse cx="318.0" cy="338.0" rx="1.6" ry="1.4" fill="#3e1c1c"/>
<ellipse cx="339.6" cy="339.4" rx="1.6" ry="1.4" fill="#3e1c1c"/>
<ellipse cx="286.9" cy="347.7" rx="1.6" ry="1.4" fill="#3e1c1c"/>
<ellipse cx="298.5" cy="347.4" rx="1.6" ry="1.4" fill="#3e1c1c"/>
<ellipse cx="300.8" cy="360.2" rx="1.6" ry="1.4" fill="#3e1c1c"/>
<ellipse cx="342.9" cy="357.1" rx="1.6" ry="1.4" fill="#3e1c1c"/>
<ellipse cx="341.5" cy="362.7" rx="1.6" ry="1.4" fill="#3e1c1c"/>
<ellipse cx="348.5" cy="363.0" rx="1.6" ry="1.4" fill="#3e1c1c"/>
<ellipse cx="351.8" cy="355.7" rx="1.6" ry="1.4" fill="#3e1c1c"/>
<ellipse cx="339.3" cy="372.4" rx="1.6" ry="1.4" fill="#3e1c1c"/>
<ellipse cx="346.3" cy="374.0" rx="1.6" ry="1.4" fill="#3e1c1c"/>
<ellipse cx="349.0" cy="370.4" rx="1.6" ry="1.4" fill="#3e1c1c"/>
<ellipse cx="340.7" cy="402.3" rx="1.6" ry="1.4" fill="#3e1c1c"/>
<ellipse cx="319.3" cy="412.1" rx="1.6" ry="1.4" fill="#3e1c1c"/>
<ellipse cx="345.4" cy="365.5" rx="1.6" ry="1.4" fill="#3e1c1c"/>
<path d="M467.0,339.3 Q465.1,355.7 466.1,373.8 M477.6,360.6 Q484.1,355.7 490.7,344.2 M482.5,378.0 Q490.7,374.8 494.6,385.3 M449.6,357.3 Q454.6,350.8 459.5,344.2" stroke="#86ad55" stroke-width="1.1" fill="none"/>
<ellipse cx="448.0" cy="355.7" rx="3" ry="2.2" fill="#6f9f3c"/>
<ellipse cx="445.4" cy="359.6" rx="2.4" ry="1.8" fill="#6f9f3c"/>
<ellipse cx="457.9" cy="342.6" rx="2.8" ry="2.1" fill="#6f9f3c"/>
<ellipse cx="461.8" cy="345.2" rx="2.4" ry="1.8" fill="#6f9f3c"/>
<ellipse cx="463.8" cy="349.8" rx="2.2" ry="1.7" fill="#6f9f3c"/>
<ellipse cx="459.5" cy="348.5" rx="2.2" ry="1.7" fill="#6f9f3c"/>
<ellipse cx="471.0" cy="373.8" rx="2.4" ry="1.8" fill="#6f9f3c"/>
<ellipse cx="468.4" cy="372.1" rx="2" ry="1.5" fill="#6f9f3c"/>
<ellipse cx="479.2" cy="359.6" rx="2.4" ry="1.8" fill="#6f9f3c"/>
<ellipse cx="492.3" cy="341.9" rx="2.4" ry="1.8" fill="#6f9f3c"/>
<ellipse cx="493.3" cy="385.9" rx="2.2" ry="1.7" fill="#6f9f3c"/>
<ellipse cx="489.4" cy="378.7" rx="1.8" ry="1.4" fill="#6f9f3c"/>
<circle cx="511.1" cy="357.3" r="3.1" fill="#3b7428"/>
<circle cx="507.1" cy="367.2" r="3.0" fill="#3b7428"/>
<circle cx="517.0" cy="362.9" r="3.1" fill="#3b7428"/>
<circle cx="523.6" cy="365.6" r="2.9" fill="#3b7428"/>
<circle cx="519.6" cy="371.5" r="3.1" fill="#3b7428"/>
<circle cx="513.0" cy="374.8" r="2.9" fill="#3b7428"/>
<circle cx="527.5" cy="373.8" r="2.5" fill="#3b7428"/>
<circle cx="529.5" cy="378.7" r="2.1" fill="#3b7428"/>
<circle cx="505.5" cy="363.9" r="2.2" fill="#3b7428"/>
<circle cx="513.7" cy="368.2" r="2.5" fill="#3b7428"/>
<circle cx="509.8" cy="359.6" r="2.2" fill="#78ad4c"/>
<circle cx="520.9" cy="368.8" r="2.0" fill="#78ad4c"/>
<circle cx="515.3" cy="376.1" r="2.0" fill="#78ad4c"/>
<circle cx="523.6" cy="376.1" r="1.8" fill="#78ad4c"/>
<circle cx="505.8" cy="368.8" r="1.8" fill="#78ad4c"/>
<circle cx="518.0" cy="363.9" r="1.6" fill="#78ad4c"/>
<ellipse cx="475.9" cy="333.7" rx="1.5" ry="1.3" fill="#2a1612"/>
<ellipse cx="485.8" cy="336.0" rx="1.5" ry="1.3" fill="#2a1612"/>
<ellipse cx="489.1" cy="345.8" rx="1.5" ry="1.3" fill="#2a1612"/>
<ellipse cx="495.0" cy="352.4" rx="1.5" ry="1.3" fill="#2a1612"/>
<ellipse cx="450.6" cy="369.8" rx="1.5" ry="1.3" fill="#2a1612"/>
<ellipse cx="465.1" cy="378.0" rx="1.5" ry="1.3" fill="#2a1612"/>
<ellipse cx="498.9" cy="383.0" rx="1.5" ry="1.3" fill="#2a1612"/>
<ellipse cx="513.7" cy="363.9" rx="1.5" ry="1.3" fill="#2a1612"/>
<ellipse cx="517.0" cy="370.5" rx="1.5" ry="1.3" fill="#2a1612"/>
<line x1="71.8" y1="440.4" x2="658.2" y2="440.4" stroke="#ff00ff" stroke-width="2.6" stroke-dasharray="3 3.03"/>
<polyline points="102.2,269.9 109.5,269.9 116.9,268.8 124.2,269.5 137.9,269.2 145.3,268.8 152.6,271.6 160.0,270.8 173.7,271.6 181.0,272.3 188.4,270.8 195.7,268.8 209.4,270.8 216.8,267.7 224.1,267.7 231.5,267.7 245.2,268.8 252.5,269.7 259.9,270.3 267.2,271.0 280.9,267.0 288.3,271.6 295.6,269.7 303.0,268.6 316.6,269.9 324.0,267.7 331.3,273.0 338.7,272.5 352.4,272.5 359.7,274.7 367.1,270.8 374.4,268.1 388.1,268.6 395.5,268.6 402.8,271.4 410.2,271.4 423.9,270.8 431.2,268.8 438.6,271.4 445.9,271.4 459.6,267.0 467.0,269.2 474.3,269.2 481.7,267.7 495.3,270.8 502.7,268.6 510.0,270.3 517.4,270.3 531.1,268.1 538.4,268.1 545.8,268.1 553.1,268.1 566.8,269.7 574.2,267.7 581.5,269.2 588.9,266.4 602.6,271.4 609.9,264.4 617.3,264.9 624.6,271.4" fill="none" stroke="#3d85c6" stroke-width="1.2" stroke-dasharray="3.5 2"/>
<rect x="99.20" y="267.00" width="6.00" height="6.00" fill="#88bde8" stroke="#62a6de" stroke-width="0.7" />
<rect x="106.55" y="267.00" width="6.00" height="6.00" fill="#88bde8" stroke="#62a6de" stroke-width="0.7" />
<rect x="113.90" y="265.90" width="6.00" height="6.00" fill="#88bde8" stroke="#62a6de" stroke-width="0.7" />
<rect x="121.25" y="266.60" width="6.00" height="6.00" fill="#88bde8" stroke="#62a6de" stroke-width="0.7" />
<rect x="134.94" y="266.30" width="6.00" height="6.00" fill="#88bde8" stroke="#62a6de" stroke-width="0.7" />
<rect x="142.29" y="265.90" width="6.00" height="6.00" fill="#88bde8" stroke="#62a6de" stroke-width="0.7" />
<rect x="149.64" y="268.70" width="6.00" height="6.00" fill="#88bde8" stroke="#62a6de" stroke-width="0.7" />
<rect x="156.99" y="267.90" width="6.00" height="6.00" fill="#88bde8" stroke="#62a6de" stroke-width="0.7" />
<rect x="170.68" y="268.70" width="6.00" height="6.00" fill="#88bde8" stroke="#62a6de" stroke-width="0.7" />
<rect x="178.03" y="269.40" width="6.00" height="6.00" fill="#88bde8" stroke="#62a6de" stroke-width="0.7" />
<rect x="185.38" y="267.90" width="6.00" height="6.00" fill="#88bde8" stroke="#62a6de" stroke-width="0.7" />
<rect x="192.73" y="265.90" width="6.00" height="6.00" fill="#88bde8" stroke="#62a6de" stroke-width="0.7" />
<rect x="206.42" y="267.90" width="6.00" height="6.00" fill="#88bde8" stroke="#62a6de" stroke-width="0.7" />
<rect x="213.77" y="264.80" width="6.00" height="6.00" fill="#88bde8" stroke="#62a6de" stroke-width="0.7" />
<rect x="221.12" y="264.80" width="6.00" height="6.00" fill="#88bde8" stroke="#62a6de" stroke-width="0.7" />
<rect x="228.47" y="264.80" width="6.00" height="6.00" fill="#88bde8" stroke="#62a6de" stroke-width="0.7" />
<rect x="242.16" y="265.90" width="6.00" height="6.00" fill="#88bde8" stroke="#62a6de" stroke-width="0.7" />
<rect x="249.51" y="266.80" width="6.00" height="6.00" fill="#88bde8" stroke="#62a6de" stroke-width="0.7" />
<rect x="256.86" y="267.40" width="6.00" height="6.00" fill="#88bde8" stroke="#62a6de" stroke-width="0.7" />
<rect x="264.21" y="268.10" width="6.00" height="6.00" fill="#88bde8" stroke="#62a6de" stroke-width="0.7" />
<rect x="277.90" y="264.10" width="6.00" height="6.00" fill="#88bde8" stroke="#62a6de" stroke-width="0.7" />
<rect x="285.25" y="268.70" width="6.00" height="6.00" fill="#88bde8" stroke="#62a6de" stroke-width="0.7" />
<rect x="292.60" y="266.80" width="6.00" height="6.00" fill="#88bde8" stroke="#62a6de" stroke-width="0.7" />
<rect x="299.95" y="265.70" width="6.00" height="6.00" fill="#88bde8" stroke="#62a6de" stroke-width="0.7" />
<rect x="313.64" y="267.00" width="6.00" height="6.00" fill="#88bde8" stroke="#62a6de" stroke-width="0.7" />
<rect x="320.99" y="264.80" width="6.00" height="6.00" fill="#88bde8" stroke="#62a6de" stroke-width="0.7" />
<rect x="328.34" y="270.10" width="6.00" height="6.00" fill="#88bde8" stroke="#62a6de" stroke-width="0.7" />
<rect x="335.69" y="269.60" width="6.00" height="6.00" fill="#88bde8" stroke="#62a6de" stroke-width="0.7" />
<rect x="349.38" y="269.60" width="6.00" height="6.00" fill="#88bde8" stroke="#62a6de" stroke-width="0.7" />
<rect x="356.73" y="271.80" width="6.00" height="6.00" fill="#88bde8" stroke="#62a6de" stroke-width="0.7" />
<rect x="364.08" y="267.90" width="6.00" height="6.00" fill="#88bde8" stroke="#62a6de" stroke-width="0.7" />
<rect x="371.43" y="265.20" width="6.00" height="6.00" fill="#88bde8" stroke="#62a6de" stroke-width="0.7" />
<rect x="385.12" y="265.70" width="6.00" height="6.00" fill="#88bde8" stroke="#62a6de" stroke-width="0.7" />
<rect x="392.47" y="265.70" width="6.00" height="6.00" fill="#88bde8" stroke="#62a6de" stroke-width="0.7" />
<rect x="399.82" y="268.50" width="6.00" height="6.00" fill="#88bde8" stroke="#62a6de" stroke-width="0.7" />
<rect x="407.17" y="268.50" width="6.00" height="6.00" fill="#88bde8" stroke="#62a6de" stroke-width="0.7" />
<rect x="420.86" y="267.90" width="6.00" height="6.00" fill="#88bde8" stroke="#62a6de" stroke-width="0.7" />
<rect x="428.21" y="265.90" width="6.00" height="6.00" fill="#88bde8" stroke="#62a6de" stroke-width="0.7" />
<rect x="435.56" y="268.50" width="6.00" height="6.00" fill="#88bde8" stroke="#62a6de" stroke-width="0.7" />
<rect x="442.91" y="268.50" width="6.00" height="6.00" fill="#88bde8" stroke="#62a6de" stroke-width="0.7" />
<rect x="456.60" y="264.10" width="6.00" height="6.00" fill="#88bde8" stroke="#62a6de" stroke-width="0.7" />
<rect x="463.95" y="266.30" width="6.00" height="6.00" fill="#88bde8" stroke="#62a6de" stroke-width="0.7" />
<rect x="471.30" y="266.30" width="6.00" height="6.00" fill="#88bde8" stroke="#62a6de" stroke-width="0.7" />
<rect x="478.65" y="264.80" width="6.00" height="6.00" fill="#88bde8" stroke="#62a6de" stroke-width="0.7" />
<rect x="492.34" y="267.90" width="6.00" height="6.00" fill="#88bde8" stroke="#62a6de" stroke-width="0.7" />
<rect x="499.69" y="265.70" width="6.00" height="6.00" fill="#88bde8" stroke="#62a6de" stroke-width="0.7" />
<rect x="507.04" y="267.40" width="6.00" height="6.00" fill="#88bde8" stroke="#62a6de" stroke-width="0.7" />
<rect x="514.39" y="267.40" width="6.00" height="6.00" fill="#88bde8" stroke="#62a6de" stroke-width="0.7" />
<rect x="528.08" y="265.20" width="6.00" height="6.00" fill="#88bde8" stroke="#62a6de" stroke-width="0.7" />
<rect x="535.43" y="265.20" width="6.00" height="6.00" fill="#88bde8" stroke="#62a6de" stroke-width="0.7" />
<rect x="542.78" y="265.20" width="6.00" height="6.00" fill="#88bde8" stroke="#62a6de" stroke-width="0.7" />
<rect x="550.13" y="265.20" width="6.00" height="6.00" fill="#88bde8" stroke="#62a6de" stroke-width="0.7" />
<rect x="563.82" y="266.80" width="6.00" height="6.00" fill="#88bde8" stroke="#62a6de" stroke-width="0.7" />
<rect x="571.17" y="264.80" width="6.00" height="6.00" fill="#88bde8" stroke="#62a6de" stroke-width="0.7" />
<rect x="578.52" y="266.30" width="6.00" height="6.00" fill="#88bde8" stroke="#62a6de" stroke-width="0.7" />
<rect x="585.87" y="263.50" width="6.00" height="6.00" fill="#88bde8" stroke="#62a6de" stroke-width="0.7" />
<rect x="599.56" y="268.50" width="6.00" height="6.00" fill="#88bde8" stroke="#62a6de" stroke-width="0.7" />
<rect x="606.91" y="261.50" width="6.00" height="6.00" fill="#88bde8" stroke="#62a6de" stroke-width="0.7" />
<rect x="614.26" y="262.00" width="6.00" height="6.00" fill="#88bde8" stroke="#62a6de" stroke-width="0.7" />
<rect x="621.61" y="268.50" width="6.00" height="6.00" fill="#88bde8" stroke="#62a6de" stroke-width="0.7" />
<polyline points="102.2,443.8 109.5,445.3 116.9,443.8 124.2,445.8 137.9,445.8 145.3,445.8 152.6,445.8 160.0,443.8 173.7,443.8 181.0,445.8 188.4,445.8 195.7,448.0 209.4,445.3 216.8,445.8 224.1,445.3 231.5,445.3 245.2,447.1 252.5,445.8 259.9,447.5 267.2,445.8 280.9,447.5 288.3,444.2 295.6,444.9 303.0,447.5 316.6,447.1 324.0,445.3 331.3,447.1 338.7,447.5 352.4,445.8 359.7,445.8 367.1,444.2 374.4,444.2 388.1,445.8 395.5,445.8 402.8,447.5 410.2,445.3 423.9,445.8 431.2,445.8 438.6,444.2 445.9,445.8 459.6,445.3 467.0,447.5 474.3,447.1 481.7,445.8 495.3,445.8 502.7,445.8 510.0,446.0 517.4,447.1 531.1,444.2 538.4,444.2 545.8,444.2 553.1,437.7 566.8,434.4 574.2,426.3 581.5,425.8 588.9,420.1 602.6,419.3 609.9,416.4 617.3,413.8 624.6,410.9" fill="none" stroke="#f29a2e" stroke-width="1.2" stroke-dasharray="3.5 2"/>
<circle cx="102.2" cy="443.8" r="3.6" fill="#fcd1a0" stroke="#f5a443" stroke-width="0.9"/>
<circle cx="109.5" cy="445.3" r="3.6" fill="#fcd1a0" stroke="#f5a443" stroke-width="0.9"/>
<circle cx="116.9" cy="443.8" r="3.6" fill="#fcd1a0" stroke="#f5a443" stroke-width="0.9"/>
<circle cx="124.2" cy="445.8" r="3.6" fill="#fcd1a0" stroke="#f5a443" stroke-width="0.9"/>
<circle cx="137.9" cy="445.8" r="3.6" fill="#fcd1a0" stroke="#f5a443" stroke-width="0.9"/>
<circle cx="145.3" cy="445.8" r="3.6" fill="#fcd1a0" stroke="#f5a443" stroke-width="0.9"/>
<circle cx="152.6" cy="445.8" r="3.6" fill="#fcd1a0" stroke="#f5a443" stroke-width="0.9"/>
<circle cx="160.0" cy="443.8" r="3.6" fill="#fcd1a0" stroke="#f5a443" stroke-width="0.9"/>
<circle cx="173.7" cy="443.8" r="3.6" fill="#fcd1a0" stroke="#f5a443" stroke-width="0.9"/>
<circle cx="181.0" cy="445.8" r="3.6" fill="#fcd1a0" stroke="#f5a443" stroke-width="0.9"/>
<circle cx="188.4" cy="445.8" r="3.6" fill="#fcd1a0" stroke="#f5a443" stroke-width="0.9"/>
<circle cx="195.7" cy="448.0" r="3.6" fill="#fcd1a0" stroke="#f5a443" stroke-width="0.9"/>
<circle cx="209.4" cy="445.3" r="3.6" fill="#fcd1a0" stroke="#f5a443" stroke-width="0.9"/>
<circle cx="216.8" cy="445.8" r="3.6" fill="#fcd1a0" stroke="#f5a443" stroke-width="0.9"/>
<circle cx="224.1" cy="445.3" r="3.6" fill="#fcd1a0" stroke="#f5a443" stroke-width="0.9"/>
<circle cx="231.5" cy="445.3" r="3.6" fill="#fcd1a0" stroke="#f5a443" stroke-width="0.9"/>
<circle cx="245.2" cy="447.1" r="3.6" fill="#fcd1a0" stroke="#f5a443" stroke-width="0.9"/>
<circle cx="252.5" cy="445.8" r="3.6" fill="#fcd1a0" stroke="#f5a443" stroke-width="0.9"/>
<circle cx="259.9" cy="447.5" r="3.6" fill="#fcd1a0" stroke="#f5a443" stroke-width="0.9"/>
<circle cx="267.2" cy="445.8" r="3.6" fill="#fcd1a0" stroke="#f5a443" stroke-width="0.9"/>
<circle cx="280.9" cy="447.5" r="3.6" fill="#fcd1a0" stroke="#f5a443" stroke-width="0.9"/>
<circle cx="288.3" cy="444.2" r="3.6" fill="#fcd1a0" stroke="#f5a443" stroke-width="0.9"/>
<circle cx="295.6" cy="444.9" r="3.6" fill="#fcd1a0" stroke="#f5a443" stroke-width="0.9"/>
<circle cx="303.0" cy="447.5" r="3.6" fill="#fcd1a0" stroke="#f5a443" stroke-width="0.9"/>
<circle cx="316.6" cy="447.1" r="3.6" fill="#fcd1a0" stroke="#f5a443" stroke-width="0.9"/>
<circle cx="324.0" cy="445.3" r="3.6" fill="#fcd1a0" stroke="#f5a443" stroke-width="0.9"/>
<circle cx="331.3" cy="447.1" r="3.6" fill="#fcd1a0" stroke="#f5a443" stroke-width="0.9"/>
<circle cx="338.7" cy="447.5" r="3.6" fill="#fcd1a0" stroke="#f5a443" stroke-width="0.9"/>
<circle cx="352.4" cy="445.8" r="3.6" fill="#fcd1a0" stroke="#f5a443" stroke-width="0.9"/>
<circle cx="359.7" cy="445.8" r="3.6" fill="#fcd1a0" stroke="#f5a443" stroke-width="0.9"/>
<circle cx="367.1" cy="444.2" r="3.6" fill="#fcd1a0" stroke="#f5a443" stroke-width="0.9"/>
<circle cx="374.4" cy="444.2" r="3.6" fill="#fcd1a0" stroke="#f5a443" stroke-width="0.9"/>
<circle cx="388.1" cy="445.8" r="3.6" fill="#fcd1a0" stroke="#f5a443" stroke-width="0.9"/>
<circle cx="395.5" cy="445.8" r="3.6" fill="#fcd1a0" stroke="#f5a443" stroke-width="0.9"/>
<circle cx="402.8" cy="447.5" r="3.6" fill="#fcd1a0" stroke="#f5a443" stroke-width="0.9"/>
<circle cx="410.2" cy="445.3" r="3.6" fill="#fcd1a0" stroke="#f5a443" stroke-width="0.9"/>
<circle cx="423.9" cy="445.8" r="3.6" fill="#fcd1a0" stroke="#f5a443" stroke-width="0.9"/>
<circle cx="431.2" cy="445.8" r="3.6" fill="#fcd1a0" stroke="#f5a443" stroke-width="0.9"/>
<circle cx="438.6" cy="444.2" r="3.6" fill="#fcd1a0" stroke="#f5a443" stroke-width="0.9"/>
<circle cx="445.9" cy="445.8" r="3.6" fill="#fcd1a0" stroke="#f5a443" stroke-width="0.9"/>
<circle cx="459.6" cy="445.3" r="3.6" fill="#fcd1a0" stroke="#f5a443" stroke-width="0.9"/>
<circle cx="467.0" cy="447.5" r="3.6" fill="#fcd1a0" stroke="#f5a443" stroke-width="0.9"/>
<circle cx="474.3" cy="447.1" r="3.6" fill="#fcd1a0" stroke="#f5a443" stroke-width="0.9"/>
<circle cx="481.7" cy="445.8" r="3.6" fill="#fcd1a0" stroke="#f5a443" stroke-width="0.9"/>
<circle cx="495.3" cy="445.8" r="3.6" fill="#fcd1a0" stroke="#f5a443" stroke-width="0.9"/>
<circle cx="502.7" cy="445.8" r="3.6" fill="#fcd1a0" stroke="#f5a443" stroke-width="0.9"/>
<circle cx="510.0" cy="446.0" r="3.6" fill="#fcd1a0" stroke="#f5a443" stroke-width="0.9"/>
<circle cx="517.4" cy="447.1" r="3.6" fill="#fcd1a0" stroke="#f5a443" stroke-width="0.9"/>
<circle cx="531.1" cy="444.2" r="3.6" fill="#fcd1a0" stroke="#f5a443" stroke-width="0.9"/>
<circle cx="538.4" cy="444.2" r="3.6" fill="#fcd1a0" stroke="#f5a443" stroke-width="0.9"/>
<circle cx="545.8" cy="444.2" r="3.6" fill="#fcd1a0" stroke="#f5a443" stroke-width="0.9"/>
<circle cx="553.1" cy="437.7" r="3.6" fill="#fcd1a0" stroke="#f5a443" stroke-width="0.9"/>
<circle cx="566.8" cy="434.4" r="3.6" fill="#fcd1a0" stroke="#f5a443" stroke-width="0.9"/>
<circle cx="574.2" cy="426.3" r="3.6" fill="#fcd1a0" stroke="#f5a443" stroke-width="0.9"/>
<circle cx="581.5" cy="425.8" r="3.6" fill="#fcd1a0" stroke="#f5a443" stroke-width="0.9"/>
<circle cx="588.9" cy="420.1" r="3.6" fill="#fcd1a0" stroke="#f5a443" stroke-width="0.9"/>
<circle cx="602.6" cy="419.3" r="3.6" fill="#fcd1a0" stroke="#f5a443" stroke-width="0.9"/>
<circle cx="609.9" cy="416.4" r="3.6" fill="#fcd1a0" stroke="#f5a443" stroke-width="0.9"/>
<circle cx="617.3" cy="413.8" r="3.6" fill="#fcd1a0" stroke="#f5a443" stroke-width="0.9"/>
<circle cx="624.6" cy="410.9" r="3.6" fill="#fcd1a0" stroke="#f5a443" stroke-width="0.9"/>
<rect x="71.50" y="248.30" width="587.70" height="219.10" fill="none" stroke="#222" stroke-width="1.3" />
<line x1="101.50" y1="467.40" x2="101.50" y2="461.90" stroke="#222" stroke-width="1.1" />
<text x="101.50" y="485.80" font-size="15" fill="#111" text-anchor="middle" textLength="8.84" lengthAdjust="spacingAndGlyphs" >0</text>
<line x1="138.65" y1="467.40" x2="138.65" y2="464.20" stroke="#222" stroke-width="1" />
<line x1="175.80" y1="467.40" x2="175.80" y2="461.90" stroke="#222" stroke-width="1.1" />
<text x="175.80" y="485.80" font-size="15" fill="#111" text-anchor="middle" textLength="17.68" lengthAdjust="spacingAndGlyphs" >50</text>
<line x1="212.95" y1="467.40" x2="212.95" y2="464.20" stroke="#222" stroke-width="1" />
<line x1="250.10" y1="467.40" x2="250.10" y2="461.90" stroke="#222" stroke-width="1.1" />
<text x="250.10" y="485.80" font-size="15" fill="#111" text-anchor="middle" textLength="26.52" lengthAdjust="spacingAndGlyphs" >100</text>
<line x1="287.25" y1="467.40" x2="287.25" y2="464.20" stroke="#222" stroke-width="1" />
<line x1="324.40" y1="467.40" x2="324.40" y2="461.90" stroke="#222" stroke-width="1.1" />
<text x="324.40" y="485.80" font-size="15" fill="#111" text-anchor="middle" textLength="26.52" lengthAdjust="spacingAndGlyphs" >150</text>
<line x1="361.55" y1="467.40" x2="361.55" y2="464.20" stroke="#222" stroke-width="1" />
<line x1="398.70" y1="467.40" x2="398.70" y2="461.90" stroke="#222" stroke-width="1.1" />
<text x="398.70" y="485.80" font-size="15" fill="#111" text-anchor="middle" textLength="26.52" lengthAdjust="spacingAndGlyphs" >200</text>
<line x1="435.85" y1="467.40" x2="435.85" y2="464.20" stroke="#222" stroke-width="1" />
<line x1="473.00" y1="467.40" x2="473.00" y2="461.90" stroke="#222" stroke-width="1.1" />
<text x="473.00" y="485.80" font-size="15" fill="#111" text-anchor="middle" textLength="26.52" lengthAdjust="spacingAndGlyphs" >250</text>
<line x1="510.15" y1="467.40" x2="510.15" y2="464.20" stroke="#222" stroke-width="1" />
<line x1="547.30" y1="467.40" x2="547.30" y2="461.90" stroke="#222" stroke-width="1.1" />
<text x="547.30" y="485.80" font-size="15" fill="#111" text-anchor="middle" textLength="26.52" lengthAdjust="spacingAndGlyphs" >300</text>
<line x1="584.45" y1="467.40" x2="584.45" y2="464.20" stroke="#222" stroke-width="1" />
<line x1="621.60" y1="467.40" x2="621.60" y2="461.90" stroke="#222" stroke-width="1.1" />
<text x="621.60" y="485.80" font-size="15" fill="#111" text-anchor="middle" textLength="26.52" lengthAdjust="spacingAndGlyphs" >350</text>
<line x1="100.80" y1="248.30" x2="100.80" y2="253.80" stroke="#222" stroke-width="1.1" />
<text x="100.80" y="238.80" font-size="15" fill="#111" text-anchor="middle" textLength="8.84" lengthAdjust="spacingAndGlyphs" >0</text>
<line x1="150.45" y1="248.30" x2="150.45" y2="251.50" stroke="#222" stroke-width="1" />
<line x1="200.10" y1="248.30" x2="200.10" y2="253.80" stroke="#222" stroke-width="1.1" />
<text x="200.10" y="238.80" font-size="15" fill="#111" text-anchor="middle" textLength="8.84" lengthAdjust="spacingAndGlyphs" >2</text>
<line x1="249.75" y1="248.30" x2="249.75" y2="251.50" stroke="#222" stroke-width="1" />
<line x1="299.40" y1="248.30" x2="299.40" y2="253.80" stroke="#222" stroke-width="1.1" />
<text x="299.40" y="238.80" font-size="15" fill="#111" text-anchor="middle" textLength="8.84" lengthAdjust="spacingAndGlyphs" >4</text>
<line x1="349.05" y1="248.30" x2="349.05" y2="251.50" stroke="#222" stroke-width="1" />
<line x1="398.70" y1="248.30" x2="398.70" y2="253.80" stroke="#222" stroke-width="1.1" />
<text x="398.70" y="238.80" font-size="15" fill="#111" text-anchor="middle" textLength="8.84" lengthAdjust="spacingAndGlyphs" >6</text>
<line x1="448.35" y1="248.30" x2="448.35" y2="251.50" stroke="#222" stroke-width="1" />
<line x1="498.00" y1="248.30" x2="498.00" y2="253.80" stroke="#222" stroke-width="1.1" />
<text x="498.00" y="238.80" font-size="15" fill="#111" text-anchor="middle" textLength="8.84" lengthAdjust="spacingAndGlyphs" >8</text>
<line x1="547.65" y1="248.30" x2="547.65" y2="251.50" stroke="#222" stroke-width="1" />
<line x1="597.30" y1="248.30" x2="597.30" y2="253.80" stroke="#222" stroke-width="1.1" />
<text x="597.30" y="238.80" font-size="15" fill="#111" text-anchor="middle" textLength="17.68" lengthAdjust="spacingAndGlyphs" >10</text>
<line x1="646.95" y1="248.30" x2="646.95" y2="251.50" stroke="#222" stroke-width="1" />
<line x1="71.50" y1="449.30" x2="77.50" y2="449.30" stroke="#222" stroke-width="1.1" />
<text x="64.20" y="454.60" font-size="15" fill="#111" text-anchor="end" textLength="21.90" lengthAdjust="spacingAndGlyphs" >0.0</text>
<line x1="71.50" y1="431.02" x2="74.50" y2="431.02" stroke="#222" stroke-width="1" />
<line x1="71.50" y1="412.74" x2="77.50" y2="412.74" stroke="#222" stroke-width="1.1" />
<text x="64.20" y="418.04" font-size="15" fill="#111" text-anchor="end" textLength="21.90" lengthAdjust="spacingAndGlyphs" >0.2</text>
<line x1="71.50" y1="394.46" x2="74.50" y2="394.46" stroke="#222" stroke-width="1" />
<line x1="71.50" y1="376.18" x2="77.50" y2="376.18" stroke="#222" stroke-width="1.1" />
<text x="64.20" y="381.48" font-size="15" fill="#111" text-anchor="end" textLength="21.90" lengthAdjust="spacingAndGlyphs" >0.4</text>
<line x1="71.50" y1="357.90" x2="74.50" y2="357.90" stroke="#222" stroke-width="1" />
<line x1="71.50" y1="339.62" x2="77.50" y2="339.62" stroke="#222" stroke-width="1.1" />
<text x="64.20" y="344.92" font-size="15" fill="#111" text-anchor="end" textLength="21.90" lengthAdjust="spacingAndGlyphs" >0.6</text>
<line x1="71.50" y1="321.34" x2="74.50" y2="321.34" stroke="#222" stroke-width="1" />
<line x1="71.50" y1="303.06" x2="77.50" y2="303.06" stroke="#222" stroke-width="1.1" />
<text x="64.20" y="308.36" font-size="15" fill="#111" text-anchor="end" textLength="21.90" lengthAdjust="spacingAndGlyphs" >0.8</text>
<line x1="71.50" y1="284.78" x2="74.50" y2="284.78" stroke="#222" stroke-width="1" />
<line x1="71.50" y1="266.50" x2="77.50" y2="266.50" stroke="#222" stroke-width="1.1" />
<text x="64.20" y="271.80" font-size="15" fill="#111" text-anchor="end" textLength="21.90" lengthAdjust="spacingAndGlyphs" >1.0</text>
<text x="369.00" y="219.70" font-size="16.2" fill="#111" text-anchor="middle" textLength="252.50" lengthAdjust="spacingAndGlyphs" >Accumulated effluent volume (L)</text>
<text x="365.80" y="502.40" font-size="15.4" fill="#111" text-anchor="middle" textLength="64.50" lengthAdjust="spacingAndGlyphs" >Time (h)</text>
<text transform="translate(32 397.9) rotate(-90)" font-size="18" fill="#111" textLength="80.5" lengthAdjust="spacingAndGlyphs">SMX, C<tspan font-size="12" dy="3.8">t</tspan><tspan dy="-3.8">/C</tspan><tspan font-size="12" dy="3.8">0</tspan></text>
<line x1="94.50" y1="291.80" x2="123.40" y2="291.80" stroke="#3d85c6" stroke-width="1.3" />
<rect x="106.70" y="289.10" width="5.40" height="5.40" fill="#84bde8" stroke="#6aaee0" stroke-width="0.5" />
<line x1="94.50" y1="310.70" x2="123.40" y2="310.70" stroke="#f29a2e" stroke-width="1.3" />
<circle cx="109.4" cy="310.7" r="3.1" fill="#fdcb94" stroke="#f4a444" stroke-width="0.6"/>
<text x="128.20" y="297.10" font-size="14.4" fill="#111" text-anchor="start" font-weight="bold" textLength="58.60" lengthAdjust="spacingAndGlyphs" >Influent</text>
<text x="128.20" y="316.00" font-size="14.4" fill="#111" text-anchor="start" font-weight="bold" textLength="60.40" lengthAdjust="spacingAndGlyphs" >Effluent</text>
<text x="86.30" y="363.80" font-size="13.5" fill="#111" text-anchor="start" textLength="151.80" lengthAdjust="spacingAndGlyphs" >400 mg CuO, 0.5 mL/min,</text>
<text x="86.30" y="385.70" font-size="13.5" fill="#111" text-anchor="start" textLength="158.20" lengthAdjust="spacingAndGlyphs" >SMX 5 mg/L, PMS 0.5 mM,</text>
<text x="86.3" y="407.8" font-size="13.5" fill="#111">OH<tspan font-size="8" dy="-5">-</tspan><tspan dy="5"> 0.5 mM</tspan></text>
<text x="456.10" y="291.40" font-size="14" fill="#fc3a9b" text-anchor="start" font-weight="bold" textLength="183.00" lengthAdjust="spacingAndGlyphs" >SMX in Secondary Effluent</text>
<text x="617.40" y="433.50" font-size="14" fill="#fc3a9b" text-anchor="start" font-weight="bold" textLength="28.60" lengthAdjust="spacingAndGlyphs" >95%</text>
<text x="400.50" y="320.00" font-size="12.3" fill="#111" text-anchor="middle" font-weight="bold" textLength="46.50" lengthAdjust="spacingAndGlyphs" >Without</text>
<text x="400.20" y="333.00" font-size="12.3" fill="#111" text-anchor="middle" font-weight="bold" textLength="40.30" lengthAdjust="spacingAndGlyphs" >treated</text>
<text x="594.50" y="318.90" font-size="12.3" fill="#111" text-anchor="middle" font-weight="bold" textLength="70.30" lengthAdjust="spacingAndGlyphs" >Treated with</text>
<text x="594.9" y="332.7" font-size="12.3" font-weight="bold" fill="#111" text-anchor="middle">OH<tspan font-size="7" dy="-5">-</tspan><tspan dy="5">/CuO/PMS</tspan></text>
<rect x="34.10" y="559.25" width="9.80" height="121.15" fill="url(#pbar)" stroke="#f6b3d6" stroke-width="0.5" />
<text x="39.00" y="558.15" font-size="6.9" fill="#111" text-anchor="middle" font-weight="bold" textLength="13.20" lengthAdjust="spacingAndGlyphs" >6.83</text>
<text transform="translate(45.60 691.6) rotate(-45)" font-size="9.3" fill="#111" text-anchor="end">0</text>
<rect x="46.70" y="641.02" width="9.80" height="39.38" fill="url(#pbar)" stroke="#f6b3d6" stroke-width="0.5" />
<text x="51.60" y="639.92" font-size="6.9" fill="#111" text-anchor="middle" font-weight="bold" textLength="13.20" lengthAdjust="spacingAndGlyphs" >2.22</text>
<text transform="translate(58.20 691.6) rotate(-45)" font-size="9.3" fill="#111" text-anchor="end">25</text>
<rect x="59.30" y="639.07" width="9.80" height="41.33" fill="url(#pbar)" stroke="#f6b3d6" stroke-width="0.5" />
<text x="64.20" y="637.97" font-size="6.9" fill="#111" text-anchor="middle" font-weight="bold" textLength="13.20" lengthAdjust="spacingAndGlyphs" >2.33</text>
<text transform="translate(70.80 691.6) rotate(-45)" font-size="9.3" fill="#111" text-anchor="end">54</text>
<rect x="71.90" y="641.02" width="9.80" height="39.38" fill="url(#pbar)" stroke="#f6b3d6" stroke-width="0.5" />
<text x="76.80" y="639.92" font-size="6.9" fill="#111" text-anchor="middle" font-weight="bold" textLength="13.20" lengthAdjust="spacingAndGlyphs" >2.22</text>
<text transform="translate(83.40 691.6) rotate(-45)" font-size="9.3" fill="#111" text-anchor="end">83</text>
<rect x="84.50" y="639.43" width="9.80" height="40.97" fill="url(#pbar)" stroke="#f6b3d6" stroke-width="0.5" />
<text x="89.40" y="638.33" font-size="6.9" fill="#111" text-anchor="middle" font-weight="bold" textLength="13.20" lengthAdjust="spacingAndGlyphs" >2.31</text>
<text transform="translate(96.00 691.6) rotate(-45)" font-size="9.3" fill="#111" text-anchor="end">112</text>
<rect x="97.10" y="641.55" width="9.80" height="38.85" fill="url(#pbar)" stroke="#f6b3d6" stroke-width="0.5" />
<text x="102.00" y="640.45" font-size="6.9" fill="#111" text-anchor="middle" font-weight="bold" textLength="13.20" lengthAdjust="spacingAndGlyphs" >2.19</text>
<text transform="translate(108.60 691.6) rotate(-45)" font-size="9.3" fill="#111" text-anchor="end">145</text>
<rect x="109.70" y="637.30" width="9.80" height="43.10" fill="url(#pbar)" stroke="#f6b3d6" stroke-width="0.5" />
<text x="114.60" y="636.20" font-size="6.9" fill="#111" text-anchor="middle" font-weight="bold" textLength="13.20" lengthAdjust="spacingAndGlyphs" >2.43</text>
<text transform="translate(121.20 691.6) rotate(-45)" font-size="9.3" fill="#111" text-anchor="end">174</text>
<rect x="122.30" y="637.48" width="9.80" height="42.92" fill="url(#pbar)" stroke="#f6b3d6" stroke-width="0.5" />
<text x="127.20" y="636.38" font-size="6.9" fill="#111" text-anchor="middle" font-weight="bold" textLength="13.20" lengthAdjust="spacingAndGlyphs" >2.42</text>
<text transform="translate(133.80 691.6) rotate(-45)" font-size="9.3" fill="#111" text-anchor="end">203</text>
<rect x="134.90" y="639.07" width="9.80" height="41.33" fill="url(#pbar)" stroke="#f6b3d6" stroke-width="0.5" />
<text x="139.80" y="637.97" font-size="6.9" fill="#111" text-anchor="middle" font-weight="bold" textLength="13.20" lengthAdjust="spacingAndGlyphs" >2.33</text>
<text transform="translate(146.40 691.6) rotate(-45)" font-size="9.3" fill="#111" text-anchor="end">232</text>
<rect x="147.50" y="642.09" width="9.80" height="38.31" fill="url(#pbar)" stroke="#f6b3d6" stroke-width="0.5" />
<text x="152.40" y="640.99" font-size="6.9" fill="#111" text-anchor="middle" font-weight="bold" textLength="13.20" lengthAdjust="spacingAndGlyphs" >2.16</text>
<text transform="translate(159.00 691.6) rotate(-45)" font-size="9.3" fill="#111" text-anchor="end">265</text>
<rect x="160.10" y="635.88" width="9.80" height="44.52" fill="url(#pbar)" stroke="#f6b3d6" stroke-width="0.5" />
<text x="165.00" y="634.78" font-size="6.9" fill="#111" text-anchor="middle" font-weight="bold" textLength="13.20" lengthAdjust="spacingAndGlyphs" >2.51</text>
<text transform="translate(171.60 691.6) rotate(-45)" font-size="9.3" fill="#111" text-anchor="end">294</text>
<rect x="172.70" y="629.85" width="9.80" height="50.55" fill="url(#pbar)" stroke="#f6b3d6" stroke-width="0.5" />
<text x="177.60" y="628.75" font-size="6.9" fill="#111" text-anchor="middle" font-weight="bold" textLength="13.20" lengthAdjust="spacingAndGlyphs" >2.85</text>
<text transform="translate(184.20 691.6) rotate(-45)" font-size="9.3" fill="#111" text-anchor="end">323</text>
<rect x="185.30" y="622.40" width="9.80" height="58.00" fill="url(#pbar)" stroke="#f6b3d6" stroke-width="0.5" />
<text x="190.20" y="621.30" font-size="6.9" fill="#111" text-anchor="middle" font-weight="bold" textLength="13.20" lengthAdjust="spacingAndGlyphs" >3.27</text>
<text transform="translate(196.80 691.6) rotate(-45)" font-size="9.3" fill="#111" text-anchor="end">352</text>
<polyline points="51.60,561.1 64.20,563.7 76.80,561.1 89.40,563.2 102.00,560.2 114.60,566.1 127.20,566.1 139.80,563.8 152.40,559.1 165.00,568.2 177.60,576.7 190.20,587.9" fill="none" stroke="#9a66bd" stroke-width="1.8"/>
<rect x="49.20" y="558.70" width="4.80" height="4.80" fill="#a77cc8" stroke="none" stroke-width="1" />
<rect x="61.80" y="561.30" width="4.80" height="4.80" fill="#a77cc8" stroke="none" stroke-width="1" />
<rect x="74.40" y="558.70" width="4.80" height="4.80" fill="#a77cc8" stroke="none" stroke-width="1" />
<rect x="87.00" y="560.80" width="4.80" height="4.80" fill="#a77cc8" stroke="none" stroke-width="1" />
<rect x="99.60" y="557.80" width="4.80" height="4.80" fill="#a77cc8" stroke="none" stroke-width="1" />
<rect x="112.20" y="563.70" width="4.80" height="4.80" fill="#a77cc8" stroke="none" stroke-width="1" />
<rect x="124.80" y="563.70" width="4.80" height="4.80" fill="#a77cc8" stroke="none" stroke-width="1" />
<rect x="137.40" y="561.40" width="4.80" height="4.80" fill="#a77cc8" stroke="none" stroke-width="1" />
<rect x="150.00" y="556.70" width="4.80" height="4.80" fill="#a77cc8" stroke="none" stroke-width="1" />
<rect x="162.60" y="565.80" width="4.80" height="4.80" fill="#a77cc8" stroke="none" stroke-width="1" />
<rect x="175.20" y="574.30" width="4.80" height="4.80" fill="#a77cc8" stroke="none" stroke-width="1" />
<rect x="187.80" y="585.50" width="4.80" height="4.80" fill="#a77cc8" stroke="none" stroke-width="1" />
<line x1="26.70" y1="538.30" x2="202.40" y2="538.30" stroke="#111" stroke-width="1.1" />
<line x1="26.70" y1="680.40" x2="202.40" y2="680.40" stroke="#111" stroke-width="1.3" />
<line x1="26.70" y1="538.30" x2="26.70" y2="680.40" stroke="#ee2f98" stroke-width="1.2" />
<line x1="202.40" y1="538.30" x2="202.40" y2="680.40" stroke="#7f4f9a" stroke-width="1.2" />
<line x1="26.70" y1="680.40" x2="29.70" y2="680.40" stroke="#ee2f98" stroke-width="1.1" />
<text x="23.90" y="683.80" font-size="10.5" fill="#ee2f98" text-anchor="end" textLength="6.20" lengthAdjust="spacingAndGlyphs" >0</text>
<line x1="202.40" y1="680.40" x2="199.40" y2="680.40" stroke="#7f4f9a" stroke-width="1.1" />
<text x="205.40" y="683.80" font-size="10.4" fill="#7f4f9a" text-anchor="start" textLength="6.20" lengthAdjust="spacingAndGlyphs" >0</text>
<line x1="26.70" y1="662.66" x2="28.50" y2="662.66" stroke="#ee2f98" stroke-width="1" />
<line x1="202.40" y1="662.66" x2="200.60" y2="662.66" stroke="#7f4f9a" stroke-width="1" />
<line x1="26.70" y1="644.92" x2="29.70" y2="644.92" stroke="#ee2f98" stroke-width="1.1" />
<text x="23.90" y="648.32" font-size="10.5" fill="#ee2f98" text-anchor="end" textLength="6.20" lengthAdjust="spacingAndGlyphs" >2</text>
<line x1="202.40" y1="644.92" x2="199.40" y2="644.92" stroke="#7f4f9a" stroke-width="1.1" />
<text x="205.40" y="648.32" font-size="10.4" fill="#7f4f9a" text-anchor="start" textLength="12.40" lengthAdjust="spacingAndGlyphs" >20</text>
<line x1="26.70" y1="627.19" x2="28.50" y2="627.19" stroke="#ee2f98" stroke-width="1" />
<line x1="202.40" y1="627.19" x2="200.60" y2="627.19" stroke="#7f4f9a" stroke-width="1" />
<line x1="26.70" y1="609.45" x2="29.70" y2="609.45" stroke="#ee2f98" stroke-width="1.1" />
<text x="23.90" y="612.85" font-size="10.5" fill="#ee2f98" text-anchor="end" textLength="6.20" lengthAdjust="spacingAndGlyphs" >4</text>
<line x1="202.40" y1="609.45" x2="199.40" y2="609.45" stroke="#7f4f9a" stroke-width="1.1" />
<text x="205.40" y="612.85" font-size="10.4" fill="#7f4f9a" text-anchor="start" textLength="12.40" lengthAdjust="spacingAndGlyphs" >40</text>
<line x1="26.70" y1="591.71" x2="28.50" y2="591.71" stroke="#ee2f98" stroke-width="1" />
<line x1="202.40" y1="591.71" x2="200.60" y2="591.71" stroke="#7f4f9a" stroke-width="1" />
<line x1="26.70" y1="573.98" x2="29.70" y2="573.98" stroke="#ee2f98" stroke-width="1.1" />
<text x="23.90" y="577.38" font-size="10.5" fill="#ee2f98" text-anchor="end" textLength="6.20" lengthAdjust="spacingAndGlyphs" >6</text>
<line x1="202.40" y1="573.98" x2="199.40" y2="573.98" stroke="#7f4f9a" stroke-width="1.1" />
<text x="205.40" y="577.38" font-size="10.4" fill="#7f4f9a" text-anchor="start" textLength="12.40" lengthAdjust="spacingAndGlyphs" >60</text>
<line x1="26.70" y1="556.24" x2="28.50" y2="556.24" stroke="#ee2f98" stroke-width="1" />
<line x1="202.40" y1="556.24" x2="200.60" y2="556.24" stroke="#7f4f9a" stroke-width="1" />
<line x1="26.70" y1="538.50" x2="29.70" y2="538.50" stroke="#ee2f98" stroke-width="1.1" />
<text x="23.90" y="541.90" font-size="10.5" fill="#ee2f98" text-anchor="end" textLength="6.20" lengthAdjust="spacingAndGlyphs" >8</text>
<line x1="202.40" y1="538.50" x2="199.40" y2="538.50" stroke="#7f4f9a" stroke-width="1.1" />
<text x="205.40" y="541.90" font-size="10.4" fill="#7f4f9a" text-anchor="start" textLength="12.40" lengthAdjust="spacingAndGlyphs" >80</text>
<text transform="translate(13.8 608.6) rotate(-90)" font-size="12.4" fill="#ee2f98" text-anchor="middle" textLength="65" lengthAdjust="spacingAndGlyphs">TOC (mg/L)</text>
<text transform="translate(230.5 608.8) rotate(-90)" font-size="12.2" fill="#7f4f9a" text-anchor="middle" textLength="149" lengthAdjust="spacingAndGlyphs">TOC removal efficiency (%)</text>
<text x="115.00" y="715.00" font-size="12.4" fill="#111" text-anchor="middle" textLength="45.80" lengthAdjust="spacingAndGlyphs" >Time (h)</text>
<rect x="294.30" y="668.23" width="8.40" height="13.07" fill="url(#bbar)" stroke="#7db5e4" stroke-width="0.5" />
<text transform="translate(304.50 689.6) rotate(-45)" font-size="9.3" fill="#111" text-anchor="end">25</text>
<rect x="307.82" y="668.23" width="8.40" height="13.07" fill="url(#bbar)" stroke="#7db5e4" stroke-width="0.5" />
<text transform="translate(318.02 689.6) rotate(-45)" font-size="9.3" fill="#111" text-anchor="end">54</text>
<rect x="321.34" y="672.77" width="8.40" height="8.53" fill="url(#bbar)" stroke="#7db5e4" stroke-width="0.5" />
<text transform="translate(331.54 689.6) rotate(-45)" font-size="9.3" fill="#111" text-anchor="end">83</text>
<rect x="334.86" y="671.92" width="8.40" height="9.38" fill="url(#bbar)" stroke="#7db5e4" stroke-width="0.5" />
<text transform="translate(345.06 689.6) rotate(-45)" font-size="9.3" fill="#111" text-anchor="end">112</text>
<rect x="348.38" y="673.20" width="8.40" height="8.10" fill="url(#bbar)" stroke="#7db5e4" stroke-width="0.5" />
<text transform="translate(358.58 689.6) rotate(-45)" font-size="9.3" fill="#111" text-anchor="end">145</text>
<rect x="361.90" y="669.93" width="8.40" height="11.37" fill="url(#bbar)" stroke="#7db5e4" stroke-width="0.5" />
<text transform="translate(372.10 689.6) rotate(-45)" font-size="9.3" fill="#111" text-anchor="end">174</text>
<rect x="375.42" y="675.33" width="8.40" height="5.97" fill="url(#bbar)" stroke="#7db5e4" stroke-width="0.5" />
<text transform="translate(385.62 689.6) rotate(-45)" font-size="9.3" fill="#111" text-anchor="end">203</text>
<rect x="388.94" y="668.23" width="8.40" height="13.07" fill="url(#bbar)" stroke="#7db5e4" stroke-width="0.5" />
<text transform="translate(399.14 689.6) rotate(-45)" font-size="9.3" fill="#111" text-anchor="end">232</text>
<rect x="402.46" y="667.37" width="8.40" height="13.93" fill="url(#bbar)" stroke="#7db5e4" stroke-width="0.5" />
<text transform="translate(412.66 689.6) rotate(-45)" font-size="9.3" fill="#111" text-anchor="end">265</text>
<rect x="415.98" y="669.51" width="8.40" height="11.79" fill="url(#bbar)" stroke="#7db5e4" stroke-width="0.5" />
<text transform="translate(426.18 689.6) rotate(-45)" font-size="9.3" fill="#111" text-anchor="end">294</text>
<rect x="429.50" y="668.08" width="8.40" height="13.22" fill="url(#bbar)" stroke="#7db5e4" stroke-width="0.5" />
<text transform="translate(439.70 689.6) rotate(-45)" font-size="9.3" fill="#111" text-anchor="end">323</text>
<rect x="443.02" y="671.92" width="8.40" height="9.38" fill="url(#bbar)" stroke="#7db5e4" stroke-width="0.5" />
<text transform="translate(453.22 689.6) rotate(-45)" font-size="9.3" fill="#111" text-anchor="end">352</text>
<line x1="286.0" y1="667.4" x2="459.9" y2="667.4" stroke="#ff1010" stroke-width="1.4" stroke-dasharray="1.3 0.95"/>
<rect x="285.00" y="539.20" width="175.90" height="142.10" fill="none" stroke="#111" stroke-width="1.2" />
<line x1="285.00" y1="681.30" x2="288.50" y2="681.30" stroke="#111" stroke-width="1" />
<text x="281.70" y="684.50" font-size="10.4" fill="#111" text-anchor="end" textLength="14.60" lengthAdjust="spacingAndGlyphs" >0.0</text>
<line x1="285.00" y1="667.09" x2="287.00" y2="667.09" stroke="#111" stroke-width="1" />
<line x1="285.00" y1="652.88" x2="288.50" y2="652.88" stroke="#111" stroke-width="1" />
<text x="281.70" y="656.08" font-size="10.4" fill="#111" text-anchor="end" textLength="14.60" lengthAdjust="spacingAndGlyphs" >0.2</text>
<line x1="285.00" y1="638.67" x2="287.00" y2="638.67" stroke="#111" stroke-width="1" />
<line x1="285.00" y1="624.46" x2="288.50" y2="624.46" stroke="#111" stroke-width="1" />
<text x="281.70" y="627.66" font-size="10.4" fill="#111" text-anchor="end" textLength="14.60" lengthAdjust="spacingAndGlyphs" >0.4</text>
<line x1="285.00" y1="610.25" x2="287.00" y2="610.25" stroke="#111" stroke-width="1" />
<line x1="285.00" y1="596.04" x2="288.50" y2="596.04" stroke="#111" stroke-width="1" />
<text x="281.70" y="599.24" font-size="10.4" fill="#111" text-anchor="end" textLength="14.60" lengthAdjust="spacingAndGlyphs" >0.6</text>
<line x1="285.00" y1="581.83" x2="287.00" y2="581.83" stroke="#111" stroke-width="1" />
<line x1="285.00" y1="567.62" x2="288.50" y2="567.62" stroke="#111" stroke-width="1" />
<text x="281.70" y="570.82" font-size="10.4" fill="#111" text-anchor="end" textLength="14.60" lengthAdjust="spacingAndGlyphs" >0.8</text>
<line x1="285.00" y1="553.41" x2="287.00" y2="553.41" stroke="#111" stroke-width="1" />
<line x1="285.00" y1="539.20" x2="288.50" y2="539.20" stroke="#111" stroke-width="1" />
<text x="281.70" y="542.40" font-size="10.4" fill="#111" text-anchor="end" textLength="14.60" lengthAdjust="spacingAndGlyphs" >1.0</text>
<text transform="translate(262.2 610) rotate(-90)" font-size="12.2" fill="#111" text-anchor="middle" textLength="136" lengthAdjust="spacingAndGlyphs">Dissolved Cu ions (mg/L)</text>
<text x="373.20" y="712.00" font-size="12.3" fill="#111" text-anchor="middle" textLength="45.50" lengthAdjust="spacingAndGlyphs" >Time (h)</text>
<text x="292.40" y="557.60" font-size="7.8" fill="#111" text-anchor="start" textLength="141.80" lengthAdjust="spacingAndGlyphs" >Note: "All" refers to dissolved Cu ions</text>
<text x="292.40" y="567.70" font-size="7.8" fill="#111" text-anchor="start" textLength="123.00" lengthAdjust="spacingAndGlyphs" >during continuous-flow operation.</text>
<text x="381.80" y="648.60" font-size="9.4" fill="#111" text-anchor="start" font-weight="bold" textLength="36.30" lengthAdjust="spacingAndGlyphs" >All &lt; 0.1</text>
<rect x="528.60" y="573.70" width="24.10" height="106.50" fill="url(#obar)" stroke="#f7b272" stroke-width="0.6" />
<rect x="592.20" y="651.80" width="24.60" height="28.40" fill="url(#obar)" stroke="#f7b272" stroke-width="0.6" />
<text x="540.65" y="571.60" font-size="9.5" fill="#111" text-anchor="middle" font-weight="bold" >15</text>
<text x="604.50" y="649.40" font-size="9.5" fill="#111" text-anchor="middle" font-weight="bold" >4</text>
<g><clipPath id="fclip"><rect x="590.3" y="543.3" width="89.9" height="79.5"/></clipPath><g clip-path="url(#fclip)">
<rect x="590.30" y="543.30" width="89.90" height="79.50" fill="#5c5a55" stroke="none" stroke-width="1" />
<g filter="url(#blur1)">
<polygon points="590.3,543.3 680.2,543.3 680.2,575 590.3,570" fill="#6a6863"/>
<polygon points="612,543.3 680.2,543.3 680.2,568 660,556 625,548" fill="#807e79"/>
<polygon points="617,544 621,544 612,558 608,558" fill="#a6a49f"/>
<polygon points="670,560 680.2,565 680.2,622.8 670,622.8" fill="#6c6a65"/>
<polygon points="590.3,556 598,553 614,557 606,575 604,600 612,612 618,622.8 590.3,622.8" fill="#211b17"/>
</g>
<circle cx="638.3" cy="583.5" r="33.7" fill="url(#fdish)" stroke="#8a867e" stroke-width="0.7"/>
<g filter="url(#blur1)"><path d="M612,587 Q630,591 645,595 M615,601 Q630,606 645,607" stroke="#362d27" stroke-width="6.5" fill="none" stroke-linecap="round" opacity="0.85"/><path d="M606,575 Q610,600 622,617" stroke="#2a221d" stroke-width="7" fill="none" opacity="0.7"/></g>
<g filter="url(#glow)"><path d="M617,564 L628,556 L622,562 L633,560 L655,557" stroke="#2fb6dd" stroke-width="4" fill="none" stroke-linecap="round" stroke-linejoin="round" opacity="0.85"/></g>
<path d="M616.5,564 L628.5,556 M621,562.5 L634,560 L654.5,557.5 M627,565 L636,561" stroke="#55e6fc" stroke-width="1.7" fill="none" stroke-linecap="round"/>
<path d="M615,573.5 L622,571 M624,570 L632,568 M638,568 L642,567 M641,569 L645,568" stroke="#4cc4e4" stroke-width="1.1" fill="none" opacity="0.85"/>
</g></g>
<line x1="508.50" y1="538.20" x2="684.20" y2="538.20" stroke="#111" stroke-width="1.2" />
<line x1="508.50" y1="680.20" x2="684.20" y2="680.20" stroke="#111" stroke-width="1.3" />
<line x1="508.50" y1="538.20" x2="508.50" y2="680.20" stroke="#111" stroke-width="1.2" />
<line x1="684.20" y1="538.20" x2="684.20" y2="680.20" stroke="#111" stroke-width="1.2" />
<line x1="508.50" y1="680.20" x2="512.00" y2="680.20" stroke="#111" stroke-width="1" />
<text x="505.10" y="683.60" font-size="10.3" fill="#111" text-anchor="end" textLength="5.80" lengthAdjust="spacingAndGlyphs" >0</text>
<line x1="508.50" y1="662.45" x2="510.50" y2="662.45" stroke="#111" stroke-width="1" />
<line x1="508.50" y1="644.70" x2="512.00" y2="644.70" stroke="#111" stroke-width="1" />
<text x="505.10" y="648.10" font-size="10.3" fill="#111" text-anchor="end" textLength="5.80" lengthAdjust="spacingAndGlyphs" >5</text>
<line x1="508.50" y1="626.95" x2="510.50" y2="626.95" stroke="#111" stroke-width="1" />
<line x1="508.50" y1="609.20" x2="512.00" y2="609.20" stroke="#111" stroke-width="1" />
<text x="505.10" y="612.60" font-size="10.3" fill="#111" text-anchor="end" textLength="11.00" lengthAdjust="spacingAndGlyphs" >10</text>
<line x1="508.50" y1="591.45" x2="510.50" y2="591.45" stroke="#111" stroke-width="1" />
<line x1="508.50" y1="573.70" x2="512.00" y2="573.70" stroke="#111" stroke-width="1" />
<text x="505.10" y="577.10" font-size="10.3" fill="#111" text-anchor="end" textLength="11.00" lengthAdjust="spacingAndGlyphs" >15</text>
<line x1="508.50" y1="555.95" x2="510.50" y2="555.95" stroke="#111" stroke-width="1" />
<line x1="508.50" y1="538.20" x2="512.00" y2="538.20" stroke="#111" stroke-width="1" />
<text x="505.10" y="541.60" font-size="10.3" fill="#111" text-anchor="end" textLength="11.00" lengthAdjust="spacingAndGlyphs" >20</text>
<text transform="translate(483.6 609.8) rotate(-90)" font-size="12" fill="#111" text-anchor="middle" textLength="150.5" lengthAdjust="spacingAndGlyphs">Luminescence inhibition (%)</text>
<text x="540.80" y="691.30" font-size="10.5" fill="#111" text-anchor="middle" textLength="35.50" lengthAdjust="spacingAndGlyphs" >Without</text>
<text x="540.80" y="703.30" font-size="10.5" fill="#111" text-anchor="middle" >treated</text>
<text x="604.20" y="691.30" font-size="10.5" fill="#111" text-anchor="middle" >Treated with</text>
<text x="604.2" y="703.3" font-size="10.5" fill="#111" text-anchor="middle">OH<tspan font-size="6.5" dy="-4">-</tspan><tspan dy="4">/CuO/PMS</tspan></text>
</svg></body></html>
